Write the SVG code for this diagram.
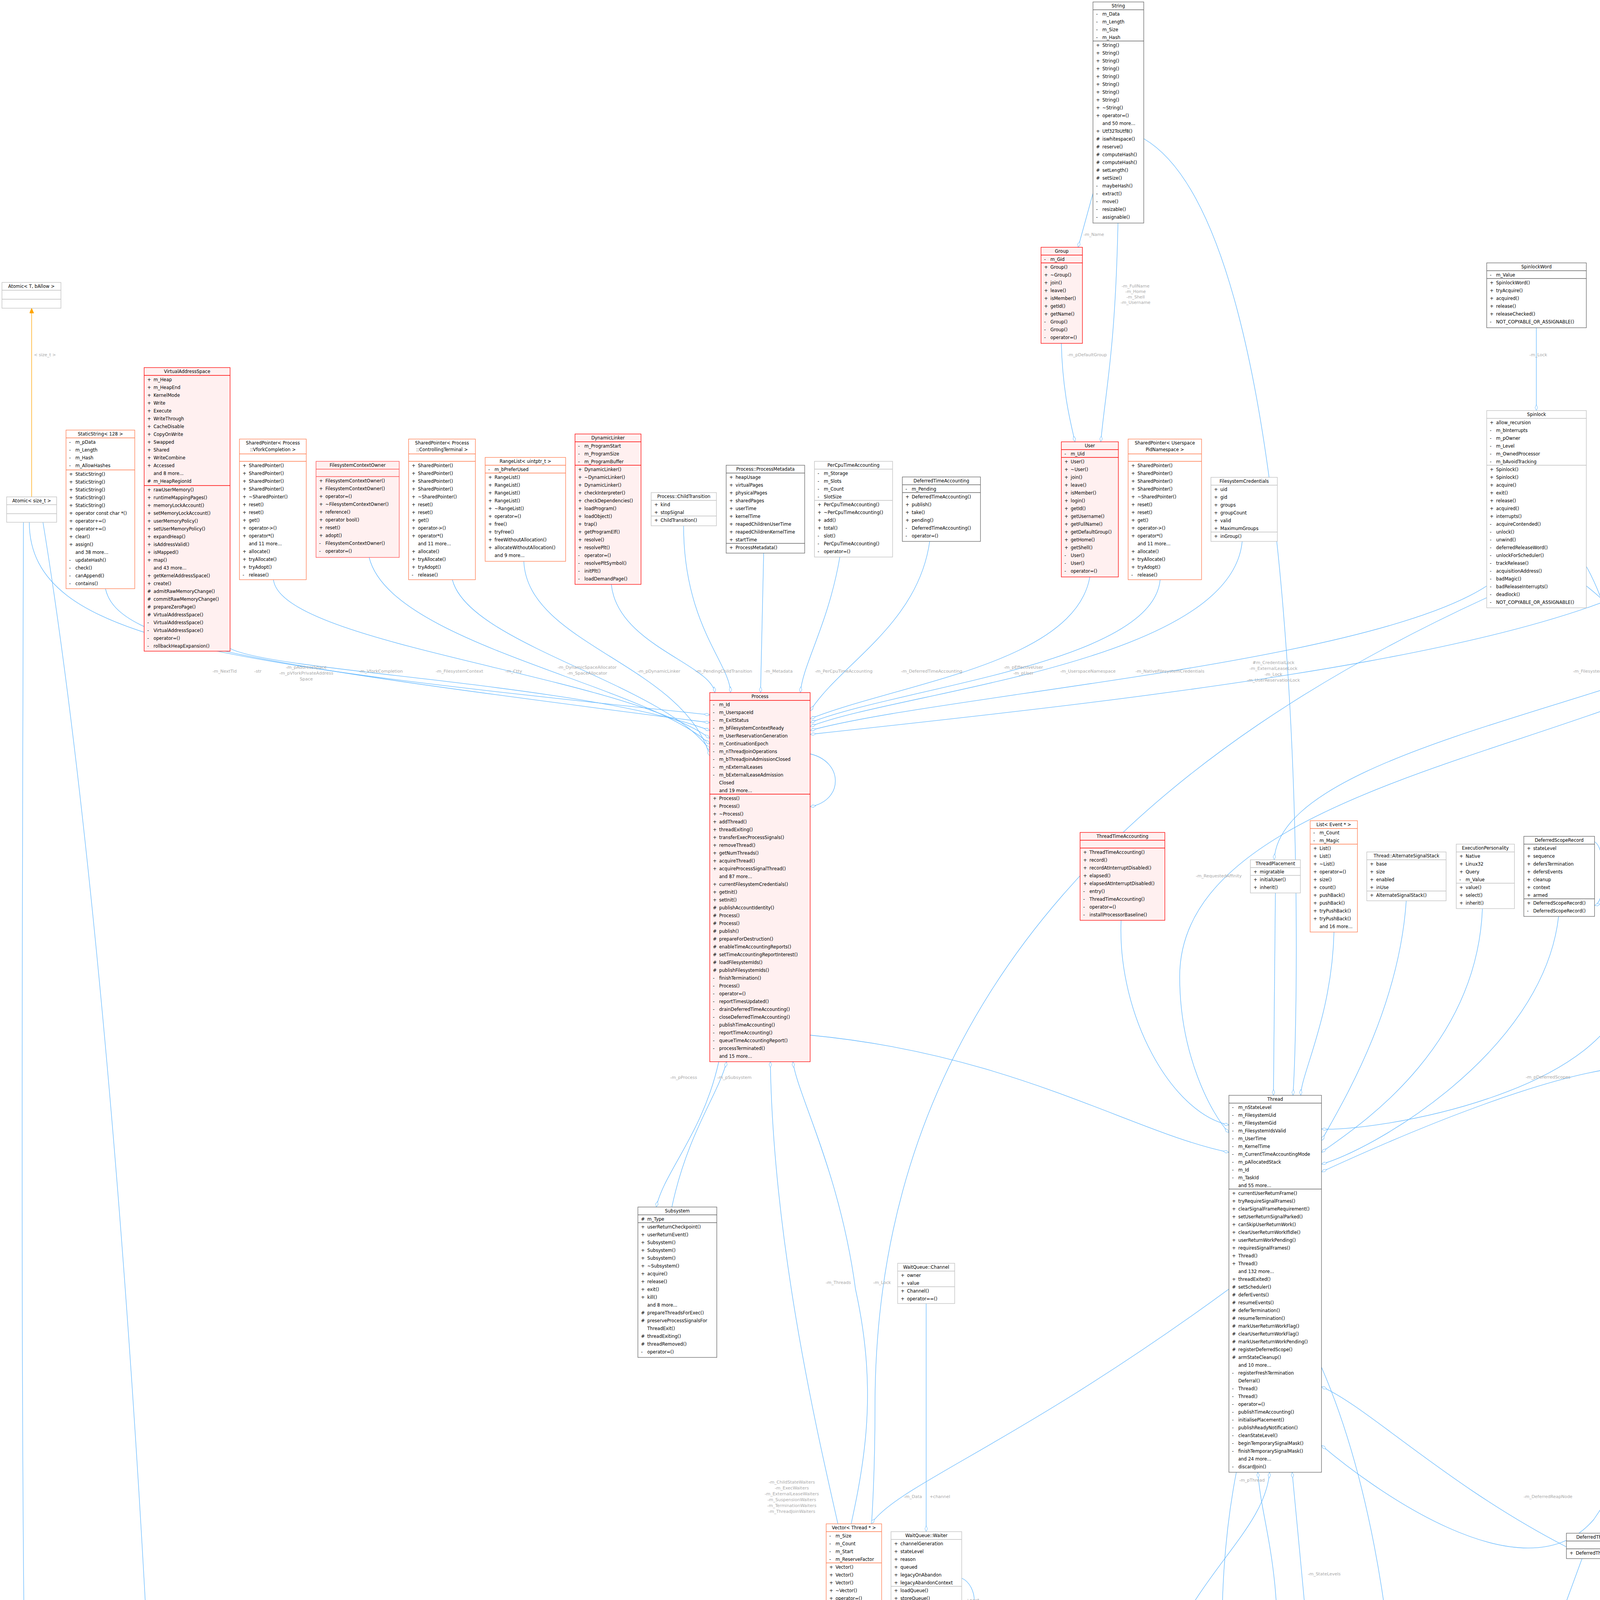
<svg xmlns="http://www.w3.org/2000/svg" width="4841" height="6575" viewBox="0 0 4841 6575">
<style>
text{font-family:"DejaVu Sans","Liberation Sans",sans-serif;font-size:11.5px;fill:#000}
.h{text-anchor:middle}
.n rect,.n line{stroke-width:1.3}
.red rect{fill:#FFF0F0;stroke:#FF0000}.red line{stroke:#FF0000}
.pk rect{fill:#FFF0F0;stroke:#FF5050}.pk line{stroke:#FF5050}
.org rect{fill:#FFFFFF;stroke:#FF7A4D}.org line{stroke:#FF7A4D}
.gd rect{fill:#FFFFFF;stroke:#666666}.gd line{stroke:#666666}
.gl rect{fill:#FFFFFF;stroke:#BFBFBF}.gl line{stroke:#BFBFBF}
.dk rect{fill:#999999;stroke:#666666}.dk line{stroke:#666666}
.e path{fill:none;stroke:#63B8FF;stroke-width:1.3}
.l{fill:#A8A8A8;font-size:11px;text-anchor:middle}
</style>
<defs>
<marker id="d" viewBox="0 0 16 8" refX="16" refY="4" markerWidth="15" markerHeight="8" markerUnits="userSpaceOnUse" orient="auto"><path d="M0,4 L8,0.5 L16,4 L8,7.5 Z" fill="#fff" stroke="#63B8FF" stroke-width="1"/></marker>
<marker id="io" viewBox="0 0 12 10" refX="12" refY="5" markerWidth="13" markerHeight="11" markerUnits="userSpaceOnUse" orient="auto"><path d="M0,0 L12,5 L0,10 Z" fill="#FFA500" stroke="#FFA500"/></marker>
<marker id="ib" viewBox="0 0 12 10" refX="12" refY="5" markerWidth="13" markerHeight="11" markerUnits="userSpaceOnUse" orient="auto"><path d="M0,0 L12,5 L0,10 Z" fill="#fff" stroke="#63B8FF"/></marker>
</defs>

<g id="edges" class="e">
<path d="M81,1272 L81,789" style="stroke:#FFA500" marker-end="url(#io)"/>
<path d="M75,1337 C75,1650 600,1700 1817,1830" marker-end="url(#d)"/>
<path d="M270,1507 C300,1650 650,1700 1817,1850" marker-end="url(#d)"/>
<path d="M589,1660 C700,1720 1500,1750 1817,1870" marker-end="url(#d)"/>
<path d="M700,1484 C720,1650 1600,1730 1817,1890" marker-end="url(#d)"/>
<path d="M945,1427 C1000,1650 1650,1750 1817,1905" marker-end="url(#d)"/>
<path d="M1158,1484 C1200,1650 1700,1750 1817,1920" marker-end="url(#d)"/>
<path d="M1341,1437 C1350,1650 1750,1700 1817,1935" marker-end="url(#d)"/>
<path d="M1565,1496 C1580,1650 1820,1700 1830,1773" marker-end="url(#d)"/>
<path d="M1750,1346 C1750,1600 1870,1700 1870,1773" marker-end="url(#d)"/>
<path d="M1955,1416 L1947,1773" marker-end="url(#d)"/>
<path d="M2150,1426 C2120,1600 2055,1700 2049,1773" marker-end="url(#d)"/>
<path d="M2380,1386 C2350,1600 2150,1700 2074,1820" marker-end="url(#d)"/>
<path d="M2790,1477 C2750,1700 2300,1750 2074,1840" marker-end="url(#d)"/>
<path d="M2970,1484 C2950,1700 2300,1760 2074,1850" marker-end="url(#d)"/>
<path d="M3180,1386 C3150,1700 2300,1770 2074,1860" marker-end="url(#d)"/>
<path d="M3806,1500 C3500,1700 2400,1780 2074,1870" marker-end="url(#d)"/>
<path d="M4380,1366 C4200,1650 3000,1780 2074,1880" marker-end="url(#d)"/>
<path d="M4680,1427 C4690,1750 3280,1850 3262,2201" marker-end="url(#d)"/>
<path d="M4650,1427 C4600,1900 3020,1900 3020,2500 C3020,2700 3100,2850 3146,2900" marker-end="url(#d)"/>
<path d="M2798,495 L2760,633" marker-end="url(#d)"/>
<path d="M2862,571 C2855,900 2830,1000 2818,1131" marker-end="url(#d)"/>
<path d="M2717,879 C2720,1000 2740,1080 2752,1131" marker-end="url(#d)"/>
<path d="M3933,839 L3933,1051" marker-end="url(#d)"/>
<path d="M2928,355 C3350,600 3330,2500 3310,2804" marker-end="url(#d)"/>
<path d="M2074,2650 C2600,2700 2900,2900 3146,2950" marker-end="url(#d)"/>
<path d="M2074,1930 C2160,1950 2160,2050 2074,2065" marker-end="url(#d)"/>
<path d="M1720,3090 C1760,2900 1840,2800 1860,2718" marker-end="url(#d)"/>
<path d="M1840,2718 C1800,2900 1700,3000 1680,3090" marker-end="url(#d)"/>
<path d="M2145,3901 C2100,3700 1980,3200 1972,2718" marker-end="url(#d)"/>
<path d="M2090,4565 C2080,4000 2300,3800 2190,3300 C2150,3000 2040,2800 2030,2718" marker-end="url(#d)"/>
<path d="M3806,1530 C3000,1900 2240,2500 2240,3600 C2240,4200 2150,4400 2110,4565" marker-end="url(#d)"/>
<path d="M3146,3300 C2600,3700 2300,3800 2230,3901" marker-end="url(#d)"/>
<path d="M2371,3337 L2371,3921" marker-end="url(#d)"/>
<path d="M2462,4040 C2505,4060 2505,4140 2462,4150" marker-end="url(#d)"/>
<path d="M2300,4226 C2200,4300 2140,4400 2135,4565" marker-end="url(#d)"/>
<path d="M2231,4640 C2300,4500 2340,4400 2340,4226" marker-end="url(#d)"/>
<path d="M2440,4226 C2520,4400 2900,4450 3000,4200 C3100,4000 3240,3900 3250,3769" marker-end="url(#d)"/>
<path d="M3165,3769 C3120,4000 3130,4200 3126,4271" marker-end="url(#d)"/>
<path d="M3380,4560 C3350,4200 3320,3900 3308,3769" marker-end="url(#d)"/>
<path d="M3110,5735 C3060,5300 3250,4700 3270,4300 C3280,4000 3230,3900 3220,3769" marker-end="url(#d)"/>
<path d="M3383,3500 C3600,4000 3700,5000 3338,5900" marker-end="url(#d)"/>
<path d="M3063,4536 C3000,4900 2980,5500 3073,5800" marker-end="url(#d)"/>
<path d="M2131,4950 L2131,5442" marker-end="url(#d)"/>
<path d="M3073,5780 C2900,5500 2780,5200 2700,4900 C2600,4500 2450,4300 2425,4226" marker-end="url(#d)"/>
<path d="M2172,5442 C2200,5410 2245,5420 2245,5470 C2245,5520 2200,5520 2175,5507" marker-end="url(#d)"/>
<path d="M2140,5507 C2180,5700 2300,5900 3073,6000" marker-end="url(#d)"/>
<path d="M2200,4950 C2400,5500 2600,5700 3073,6050" marker-end="url(#d)"/>
<path d="M3519,5150 C3300,5250 3050,5300 3040,5450 C3030,5600 3100,5700 3090,5735" marker-end="url(#d)"/>
<path d="M4050,3990 C3900,4400 3750,4800 3722,4990" marker-end="url(#d)"/>
<path d="M4180,3925 C4250,3900 4260,3990 4210,3985" marker-end="url(#d)"/>
<path d="M4110,3990 C4100,4800 4100,5500 3338,6000" marker-end="url(#d)"/>
<path d="M4010,3960 C3700,3800 3500,3600 3383,3550" marker-end="url(#d)"/>
<path d="M3535,5547 C3480,5750 3420,5900 3338,6100" marker-end="url(#d)"/>
<path d="M3700,5617 C3600,5850 3500,6000 3338,6110" marker-end="url(#d)"/>
<path d="M3900,5625 C3850,5800 3700,6000 3338,6120" marker-end="url(#d)"/>
<path d="M3290,5735 L3345,5517" marker-end="url(#ib)"/>
<path d="M213,4725 C260,4688 311,4690 311,4757 C311,4822 250,4830 215,4790" marker-end="url(#d)"/>
<path d="M108,5292 C90,5100 100,4950 172,4790" marker-end="url(#d)"/>
<path d="M192,4790 L166,5292" marker-end="url(#d)"/>
<path d="M242,5437 C275,5440 275,5510 242,5510" marker-end="url(#d)"/>
<path d="M120,5656 C110,5800 150,5950 193,6062" marker-end="url(#d)"/>
<path d="M235,6062 C230,5900 220,5750 205,5656" marker-end="url(#d)"/>
<path d="M60,1337 C55,3000 50,4600 90,5292" marker-end="url(#d)"/>
<path d="M110,1337 C300,2500 420,4600 418,5500 C418,5800 340,5950 280,6062" marker-end="url(#d)"/>
<path d="M2032,4720 C1500,4800 600,5000 242,5420" marker-end="url(#d)"/>
<path d="M2032,4880 C1500,5000 1100,5300 1021,5420" marker-end="url(#d)"/>
<path d="M2870,2356 C2860,2600 3000,2850 3146,2880" marker-end="url(#d)"/>
<path d="M3265,2286 L3260,2804" marker-end="url(#d)"/>
<path d="M3415,2386 C3410,2600 3330,2750 3330,2804" marker-end="url(#d)"/>
<path d="M3600,2306 C3580,2600 3420,2850 3383,2920" marker-end="url(#d)"/>
<path d="M3795,2326 C3780,2700 3450,2900 3383,2950" marker-end="url(#d)"/>
<path d="M3990,2346 C3950,2700 3500,2950 3383,2980" marker-end="url(#d)"/>
<path d="M4082,2155 C4112,2170 4112,2310 4082,2318" marker-end="url(#d)"/>
<path d="M4460,2353 C4460,2600 4300,2720 4200,2730 C4000,2730 3600,2900 3383,3000" marker-end="url(#d)"/>
<path d="M4435,2353 C4300,2900 4350,3500 4080,3890 C3900,4100 3500,3800 3383,3700" marker-end="url(#d)"/>
<path d="M4061,1450 C4200,1700 4200,2200 4170,2500 C4150,2800 3500,2900 3383,2890" marker-end="url(#d)"/>
<path d="M4061,1500 C4700,2000 4720,4000 4600,5000 C4500,5600 3700,6000 3338,6130" marker-end="url(#d)"/>
<path d="M4700,1427 C4800,2000 4780,4800 4600,5300 C4400,5800 3700,6100 3338,6140" marker-end="url(#d)"/>
</g>

<g id="edge-labels">
<text class="l" x="115" y="912">&lt; size_t &gt;</text>
<text class="l" x="575" y="1722">-m_NextTid</text>
<text class="l" x="660" y="1722">-str</text>
<text class="l" x="784" y="1712">-m_pAddressSpace</text>
<text class="l" x="784" y="1727">-m_pVforkPrivateAddress</text>
<text class="l" x="784" y="1742">Space</text>
<text class="l" x="975" y="1722">-m_VforkCompletion</text>
<text class="l" x="1176" y="1722">-m_FilesystemContext</text>
<text class="l" x="1315" y="1722">-m_Ctty</text>
<text class="l" x="1503" y="1712">-m_DynamicSpaceAllocator</text>
<text class="l" x="1503" y="1727">-m_SpaceAllocator</text>
<text class="l" x="1687" y="1722">-m_pDynamicLinker</text>
<text class="l" x="1853" y="1722">-m_PendingChildTransition</text>
<text class="l" x="1993" y="1722">-m_Metadata</text>
<text class="l" x="2160" y="1722">-m_PerCpuTimeAccounting</text>
<text class="l" x="2385" y="1722">-m_DeferredTimeAccounting</text>
<text class="l" x="2620" y="1712">-m_pEffectiveUser</text>
<text class="l" x="2620" y="1727">-m_pUser</text>
<text class="l" x="2785" y="1722">-m_UserspaceNamespace</text>
<text class="l" x="2995" y="1722">-m_NativeFilesystemCredentials</text>
<text class="l" x="3260" y="1700">#m_CredentialLock</text>
<text class="l" x="3260" y="1715">-m_ExternalLeaseLock</text>
<text class="l" x="3260" y="1730">-m_Lock</text>
<text class="l" x="3260" y="1745">-m_UserReservationLock</text>
<text class="l" x="4100" y="1722">-m_FilesystemContextLock</text>
<text class="l" x="4657" y="1722">+allowed</text>
<text class="l" x="3938" y="912">-m_Lock</text>
<text class="l" x="2800" y="604">-m_Name</text>
<text class="l" x="2907" y="736">-m_FullName</text>
<text class="l" x="2907" y="750">-m_Home</text>
<text class="l" x="2907" y="764">-m_Shell</text>
<text class="l" x="2907" y="778">-m_Username</text>
<text class="l" x="2783" y="912">-m_pDefaultGroup</text>
<text class="l" x="3120" y="2246">-m_RequestedAffinity</text>
<text class="l" x="4130" y="2246">+next</text>
<text class="l" x="4268" y="2237">-m_ExternalLeaseLock</text>
<text class="l" x="4268" y="2251">-m_Lock</text>
<text class="l" x="3963" y="2761">-m_pDeferredScopes</text>
<text class="l" x="4290" y="2761">-m_pInputUserStack</text>
<text class="l" x="3963" y="3835">-m_DeferredReapNode</text>
<text class="l" x="4180" y="3822">+m_pAuxillaryStack</text>
<text class="l" x="4180" y="3837">+m_pKernelStack</text>
<text class="l" x="4180" y="3852">+m_pUserStack</text>
<text class="l" x="4280" y="3962">+next</text>
<text class="l" x="1750" y="2762">-m_pProcess</text>
<text class="l" x="1880" y="2762">-m_pSubsystem</text>
<text class="l" x="2146" y="3287">-m_Threads</text>
<text class="l" x="2258" y="3287">-m_Lock</text>
<text class="l" x="2027" y="3798">-m_ChildStateWaiters</text>
<text class="l" x="2027" y="3813">-m_ExecWaiters</text>
<text class="l" x="2027" y="3828">-m_ExternalLeaseWaiters</text>
<text class="l" x="2027" y="3843">-m_SuspensionWaiters</text>
<text class="l" x="2027" y="3858">-m_TerminationWaiters</text>
<text class="l" x="2027" y="3873">-m_ThreadJoinWaiters</text>
<text class="l" x="2337" y="3835">-m_Data</text>
<text class="l" x="2406" y="3835">+channel</text>
<text class="l" x="2490" y="4100">+next</text>
<text class="l" x="2237" y="4398">-m_pFirstWaiter</text>
<text class="l" x="2237" y="4413">-m_pLastWaiter</text>
<text class="l" x="2385" y="4406">+queue</text>
<text class="l" x="2995" y="4406">+m_Waiter</text>
<text class="l" x="3205" y="3793">-m_pThread</text>
<text class="l" x="3390" y="4033">-m_StateLevels</text>
<text class="l" x="3206" y="4759">-m_pScheduler</text>
<text class="l" x="2176" y="5125">-m_pWaiters</text>
<text class="l" x="2779" y="5125">+scheduler</text>
<text class="l" x="3036" y="5118">-m_NewThreadWorker</text>
<text class="l" x="3036" y="5133">-m_TimeAccountingWorker</text>
<text class="l" x="2283" y="5478">-m_pNext</text>
<text class="l" x="2632" y="5478">-m_TimeAccountingWorkerWaiters</text>
<text class="l" x="2360" y="5691">-m_TimeAccountingWorkerWake</text>
<text class="l" x="2360" y="5706">-m_pWorkerWakeHead</text>
<text class="l" x="3155" y="5478">-m_DeferredThreadReaps</text>
<text class="l" x="4210" y="5125">-m_DeferredThreadReapStub</text>
<text class="l" x="3542" y="5698">-m_pSchedulingAlgorithm</text>
<text class="l" x="3754" y="5690">-m_DelayedNewThreadData</text>
<text class="l" x="3754" y="5705">-m_NewThreadData</text>
<text class="l" x="3953" y="5698">-m_TimeAccountingState</text>
<text class="l" x="338" y="4760">+next</text>
<text class="l" x="137" y="5125">+owner</text>
<text class="l" x="219" y="5125">-m_Intake</text>
<text class="l" x="300" y="5480">-m_Next</text>
<text class="l" x="162" y="5700">-m_Request</text>
<text class="l" x="295" y="5700">-m_pPreallocatedOwner</text>
</g>

<g id="n_atomic_t" class="n gl"><rect x="5" y="723" width="151" height="66"/><line x1="5" y1="743" x2="156" y2="743"/><line x1="5" y1="766" x2="156" y2="766"/><text class="h" x="80.5" y="737">Atomic&lt; T, bAllow &gt;</text></g>

<g id="n_atomic_size" class="n gl"><rect x="17" y="1272" width="128" height="65"/><line x1="17" y1="1292" x2="145" y2="1292"/><line x1="17" y1="1315" x2="145" y2="1315"/><text class="h" x="81" y="1286">Atomic&lt; size_t &gt;</text></g>

<g id="n_staticstring" class="n org"><rect x="169" y="1101" width="176" height="406"/><line x1="169" y1="1121" x2="345" y2="1121"/><line x1="169" y1="1203" x2="345" y2="1203"/>
<text class="h" x="257" y="1115">StaticString&lt; 128 &gt;</text>
<text y="1136"><tspan x="177">-</tspan><tspan x="177" dy="20">-</tspan><tspan x="177" dy="20">-</tspan><tspan x="177" dy="20">-</tspan></text>
<text y="1136"><tspan x="193">m_pData</tspan><tspan x="193" dy="20">m_Length</tspan><tspan x="193" dy="20">m_Hash</tspan><tspan x="193" dy="20">m_AllowHashes</tspan></text>
<text y="1218"><tspan x="177">+</tspan><tspan x="177" dy="20">+</tspan><tspan x="177" dy="20">+</tspan><tspan x="177" dy="20">+</tspan><tspan x="177" dy="20">+</tspan><tspan x="177" dy="20">+</tspan><tspan x="177" dy="20">+</tspan><tspan x="177" dy="20">+</tspan><tspan x="177" dy="20">+</tspan><tspan x="177" dy="20">+</tspan><tspan x="177" dy="40">-</tspan><tspan x="177" dy="20">-</tspan><tspan x="177" dy="20">-</tspan><tspan x="177" dy="20">-</tspan></text>
<text y="1218"><tspan x="193">StaticString()</tspan><tspan x="193" dy="20">StaticString()</tspan><tspan x="193" dy="20">StaticString()</tspan><tspan x="193" dy="20">StaticString()</tspan><tspan x="193" dy="20">StaticString()</tspan><tspan x="193" dy="20">operator const char *()</tspan><tspan x="193" dy="20">operator+=()</tspan><tspan x="193" dy="20">operator+=()</tspan><tspan x="193" dy="20">clear()</tspan><tspan x="193" dy="20">assign()</tspan><tspan x="193" dy="20">and 38 more...</tspan><tspan x="193" dy="20">updateHash()</tspan><tspan x="193" dy="20">check()</tspan><tspan x="193" dy="20">canAppend()</tspan><tspan x="193" dy="20">contains()</tspan></text></g>

<g id="n_vas" class="n red"><rect x="369" y="941" width="220" height="726"/><line x1="369" y1="961" x2="589" y2="961"/><line x1="369" y1="1243" x2="589" y2="1243"/>
<text class="h" x="479" y="955">VirtualAddressSpace</text>
<text y="976"><tspan x="377">+</tspan><tspan x="377" dy="20">+</tspan><tspan x="377" dy="20">+</tspan><tspan x="377" dy="20">+</tspan><tspan x="377" dy="20">+</tspan><tspan x="377" dy="20">+</tspan><tspan x="377" dy="20">+</tspan><tspan x="377" dy="20">+</tspan><tspan x="377" dy="20">+</tspan><tspan x="377" dy="20">+</tspan><tspan x="377" dy="20">+</tspan><tspan x="377" dy="20">+</tspan><tspan x="377" dy="40">#</tspan></text>
<text y="976"><tspan x="393">m_Heap</tspan><tspan x="393" dy="20">m_HeapEnd</tspan><tspan x="393" dy="20">KernelMode</tspan><tspan x="393" dy="20">Write</tspan><tspan x="393" dy="20">Execute</tspan><tspan x="393" dy="20">WriteThrough</tspan><tspan x="393" dy="20">CacheDisable</tspan><tspan x="393" dy="20">CopyOnWrite</tspan><tspan x="393" dy="20">Swapped</tspan><tspan x="393" dy="20">Shared</tspan><tspan x="393" dy="20">WriteCombine</tspan><tspan x="393" dy="20">Accessed</tspan><tspan x="393" dy="20">and 8 more...</tspan><tspan x="393" dy="20">m_HeapRegionId</tspan></text>
<text y="1258"><tspan x="377">+</tspan><tspan x="377" dy="20">+</tspan><tspan x="377" dy="20">+</tspan><tspan x="377" dy="20">+</tspan><tspan x="377" dy="20">+</tspan><tspan x="377" dy="20">+</tspan><tspan x="377" dy="20">+</tspan><tspan x="377" dy="20">+</tspan><tspan x="377" dy="20">+</tspan><tspan x="377" dy="20">+</tspan><tspan x="377" dy="40">+</tspan><tspan x="377" dy="20">+</tspan><tspan x="377" dy="20">#</tspan><tspan x="377" dy="20">#</tspan><tspan x="377" dy="20">#</tspan><tspan x="377" dy="20">#</tspan><tspan x="377" dy="20">-</tspan><tspan x="377" dy="20">-</tspan><tspan x="377" dy="20">-</tspan><tspan x="377" dy="20">-</tspan></text>
<text y="1258"><tspan x="393">rawUserMemory()</tspan><tspan x="393" dy="20">runtimeMappingPages()</tspan><tspan x="393" dy="20">memoryLockAccount()</tspan><tspan x="393" dy="20">setMemoryLockAccount()</tspan><tspan x="393" dy="20">userMemoryPolicy()</tspan><tspan x="393" dy="20">setUserMemoryPolicy()</tspan><tspan x="393" dy="20">expandHeap()</tspan><tspan x="393" dy="20">isAddressValid()</tspan><tspan x="393" dy="20">isMapped()</tspan><tspan x="393" dy="20">map()</tspan><tspan x="393" dy="20">and 43 more...</tspan><tspan x="393" dy="20">getKernelAddressSpace()</tspan><tspan x="393" dy="20">create()</tspan><tspan x="393" dy="20">admitRawMemoryChange()</tspan><tspan x="393" dy="20">commitRawMemoryChange()</tspan><tspan x="393" dy="20">prepareZeroPage()</tspan><tspan x="393" dy="20">VirtualAddressSpace()</tspan><tspan x="393" dy="20">VirtualAddressSpace()</tspan><tspan x="393" dy="20">VirtualAddressSpace()</tspan><tspan x="393" dy="20">operator=()</tspan><tspan x="393" dy="20">rollbackHeapExpansion()</tspan></text></g>

<g id="n_sp_vfork" class="n org"><rect x="613" y="1124" width="171" height="360"/><line x1="613" y1="1162" x2="784" y2="1162"/><line x1="613" y1="1181" x2="784" y2="1181"/>
<text class="h" x="698.5" y="1138">SharedPointer&lt; Process</text><text class="h" x="698.5" y="1155">::VforkCompletion &gt;</text>
<text y="1196"><tspan x="621">+</tspan><tspan x="621" dy="20">+</tspan><tspan x="621" dy="20">+</tspan><tspan x="621" dy="20">+</tspan><tspan x="621" dy="20">+</tspan><tspan x="621" dy="20">+</tspan><tspan x="621" dy="20">+</tspan><tspan x="621" dy="20">+</tspan><tspan x="621" dy="20">+</tspan><tspan x="621" dy="20">+</tspan><tspan x="621" dy="40">+</tspan><tspan x="621" dy="20">+</tspan><tspan x="621" dy="20">+</tspan><tspan x="621" dy="20">-</tspan></text>
<text y="1196"><tspan x="637">SharedPointer()</tspan><tspan x="637" dy="20">SharedPointer()</tspan><tspan x="637" dy="20">SharedPointer()</tspan><tspan x="637" dy="20">SharedPointer()</tspan><tspan x="637" dy="20">~SharedPointer()</tspan><tspan x="637" dy="20">reset()</tspan><tspan x="637" dy="20">reset()</tspan><tspan x="637" dy="20">get()</tspan><tspan x="637" dy="20">operator-&gt;()</tspan><tspan x="637" dy="20">operator*()</tspan><tspan x="637" dy="20">and 11 more...</tspan><tspan x="637" dy="20">allocate()</tspan><tspan x="637" dy="20">tryAllocate()</tspan><tspan x="637" dy="20">tryAdopt()</tspan><tspan x="637" dy="20">release()</tspan></text></g>

<g id="n_fsctxowner" class="n pk"><rect x="809" y="1181" width="213" height="246"/><line x1="809" y1="1201" x2="1022" y2="1201"/><line x1="809" y1="1220" x2="1022" y2="1220"/>
<text class="h" x="915.5" y="1195">FilesystemContextOwner</text>
<text y="1235"><tspan x="817">+</tspan><tspan x="817" dy="20">+</tspan><tspan x="817" dy="20">+</tspan><tspan x="817" dy="20">+</tspan><tspan x="817" dy="20">+</tspan><tspan x="817" dy="20">+</tspan><tspan x="817" dy="20">+</tspan><tspan x="817" dy="20">+</tspan><tspan x="817" dy="20">-</tspan><tspan x="817" dy="20">-</tspan></text>
<text y="1235"><tspan x="833">FilesystemContextOwner()</tspan><tspan x="833" dy="20">FilesystemContextOwner()</tspan><tspan x="833" dy="20">operator=()</tspan><tspan x="833" dy="20">~FilesystemContextOwner()</tspan><tspan x="833" dy="20">reference()</tspan><tspan x="833" dy="20">operator bool()</tspan><tspan x="833" dy="20">reset()</tspan><tspan x="833" dy="20">adopt()</tspan><tspan x="833" dy="20">FilesystemContextOwner()</tspan><tspan x="833" dy="20">operator=()</tspan></text></g>

<g id="n_sp_ctty" class="n org"><rect x="1046" y="1124" width="171" height="360"/><line x1="1046" y1="1162" x2="1217" y2="1162"/><line x1="1046" y1="1181" x2="1217" y2="1181"/>
<text class="h" x="1131.5" y="1138">SharedPointer&lt; Process</text><text class="h" x="1131.5" y="1155">::ControllingTerminal &gt;</text>
<text y="1196"><tspan x="1054">+</tspan><tspan x="1054" dy="20">+</tspan><tspan x="1054" dy="20">+</tspan><tspan x="1054" dy="20">+</tspan><tspan x="1054" dy="20">+</tspan><tspan x="1054" dy="20">+</tspan><tspan x="1054" dy="20">+</tspan><tspan x="1054" dy="20">+</tspan><tspan x="1054" dy="20">+</tspan><tspan x="1054" dy="20">+</tspan><tspan x="1054" dy="40">+</tspan><tspan x="1054" dy="20">+</tspan><tspan x="1054" dy="20">+</tspan><tspan x="1054" dy="20">-</tspan></text>
<text y="1196"><tspan x="1070">SharedPointer()</tspan><tspan x="1070" dy="20">SharedPointer()</tspan><tspan x="1070" dy="20">SharedPointer()</tspan><tspan x="1070" dy="20">SharedPointer()</tspan><tspan x="1070" dy="20">~SharedPointer()</tspan><tspan x="1070" dy="20">reset()</tspan><tspan x="1070" dy="20">reset()</tspan><tspan x="1070" dy="20">get()</tspan><tspan x="1070" dy="20">operator-&gt;()</tspan><tspan x="1070" dy="20">operator*()</tspan><tspan x="1070" dy="20">and 11 more...</tspan><tspan x="1070" dy="20">allocate()</tspan><tspan x="1070" dy="20">tryAllocate()</tspan><tspan x="1070" dy="20">tryAdopt()</tspan><tspan x="1070" dy="20">release()</tspan></text></g>

<g id="n_rangelist" class="n org"><rect x="1242" y="1171" width="206" height="266"/><line x1="1242" y1="1191" x2="1448" y2="1191"/><line x1="1242" y1="1211" x2="1448" y2="1211"/>
<text class="h" x="1345" y="1185">RangeList&lt; uintptr_t &gt;</text>
<text x="1250" y="1206">-</text><text x="1266" y="1206">m_bPreferUsed</text>
<text y="1226"><tspan x="1250">+</tspan><tspan x="1250" dy="20">+</tspan><tspan x="1250" dy="20">+</tspan><tspan x="1250" dy="20">+</tspan><tspan x="1250" dy="20">+</tspan><tspan x="1250" dy="20">+</tspan><tspan x="1250" dy="20">+</tspan><tspan x="1250" dy="20">+</tspan><tspan x="1250" dy="20">+</tspan><tspan x="1250" dy="20">+</tspan></text>
<text y="1226"><tspan x="1266">RangeList()</tspan><tspan x="1266" dy="20">RangeList()</tspan><tspan x="1266" dy="20">RangeList()</tspan><tspan x="1266" dy="20">RangeList()</tspan><tspan x="1266" dy="20">~RangeList()</tspan><tspan x="1266" dy="20">operator=()</tspan><tspan x="1266" dy="20">free()</tspan><tspan x="1266" dy="20">tryFree()</tspan><tspan x="1266" dy="20">freeWithoutAllocation()</tspan><tspan x="1266" dy="20">allocateWithoutAllocation()</tspan><tspan x="1266" dy="20">and 9 more...</tspan></text></g>

<g id="n_dynlinker" class="n red"><rect x="1472" y="1111" width="169" height="385"/><line x1="1472" y1="1131" x2="1641" y2="1131"/><line x1="1472" y1="1191" x2="1641" y2="1191"/>
<text class="h" x="1556.5" y="1125">DynamicLinker</text>
<text y="1146"><tspan x="1480">-</tspan><tspan x="1480" dy="20">-</tspan><tspan x="1480" dy="20">-</tspan></text>
<text y="1146"><tspan x="1496">m_ProgramStart</tspan><tspan x="1496" dy="20">m_ProgramSize</tspan><tspan x="1496" dy="20">m_ProgramBuffer</tspan></text>
<text y="1206"><tspan x="1480">+</tspan><tspan x="1480" dy="20">+</tspan><tspan x="1480" dy="20">+</tspan><tspan x="1480" dy="20">+</tspan><tspan x="1480" dy="20">+</tspan><tspan x="1480" dy="20">+</tspan><tspan x="1480" dy="20">+</tspan><tspan x="1480" dy="20">+</tspan><tspan x="1480" dy="20">+</tspan><tspan x="1480" dy="20">+</tspan><tspan x="1480" dy="20">+</tspan><tspan x="1480" dy="20">-</tspan><tspan x="1480" dy="20">-</tspan><tspan x="1480" dy="20">-</tspan><tspan x="1480" dy="20">-</tspan></text>
<text y="1206"><tspan x="1496">DynamicLinker()</tspan><tspan x="1496" dy="20">~DynamicLinker()</tspan><tspan x="1496" dy="20">DynamicLinker()</tspan><tspan x="1496" dy="20">checkInterpreter()</tspan><tspan x="1496" dy="20">checkDependencies()</tspan><tspan x="1496" dy="20">loadProgram()</tspan><tspan x="1496" dy="20">loadObject()</tspan><tspan x="1496" dy="20">trap()</tspan><tspan x="1496" dy="20">getProgramElf()</tspan><tspan x="1496" dy="20">resolve()</tspan><tspan x="1496" dy="20">resolvePlt()</tspan><tspan x="1496" dy="20">operator=()</tspan><tspan x="1496" dy="20">resolvePltSymbol()</tspan><tspan x="1496" dy="20">initPlt()</tspan><tspan x="1496" dy="20">loadDemandPage()</tspan></text></g>

<g id="n_childtransition" class="n gl"><rect x="1667" y="1261" width="167" height="85"/><line x1="1667" y1="1281" x2="1834" y2="1281"/><line x1="1667" y1="1321" x2="1834" y2="1321"/>
<text class="h" x="1750.5" y="1275">Process::ChildTransition</text>
<text y="1296"><tspan x="1675">+</tspan><tspan x="1675" dy="20">+</tspan><tspan x="1675" dy="20">+</tspan></text>
<text y="1296"><tspan x="1691">kind</tspan><tspan x="1691" dy="20">stopSignal</tspan><tspan x="1691" dy="20">ChildTransition()</tspan></text></g>

<g id="n_metadata" class="n gd"><rect x="1859" y="1191" width="201" height="225"/><line x1="1859" y1="1211" x2="2060" y2="1211"/><line x1="1859" y1="1391" x2="2060" y2="1391"/>
<text class="h" x="1959.5" y="1205">Process::ProcessMetadata</text>
<text y="1226"><tspan x="1867">+</tspan><tspan x="1867" dy="20">+</tspan><tspan x="1867" dy="20">+</tspan><tspan x="1867" dy="20">+</tspan><tspan x="1867" dy="20">+</tspan><tspan x="1867" dy="20">+</tspan><tspan x="1867" dy="20">+</tspan><tspan x="1867" dy="20">+</tspan><tspan x="1867" dy="20">+</tspan><tspan x="1867" dy="20">+</tspan></text>
<text y="1226"><tspan x="1883">heapUsage</tspan><tspan x="1883" dy="20">virtualPages</tspan><tspan x="1883" dy="20">physicalPages</tspan><tspan x="1883" dy="20">sharedPages</tspan><tspan x="1883" dy="20">userTime</tspan><tspan x="1883" dy="20">kernelTime</tspan><tspan x="1883" dy="20">reapedChildrenUserTime</tspan><tspan x="1883" dy="20">reapedChildrenKernelTime</tspan><tspan x="1883" dy="20">startTime</tspan><tspan x="1883" dy="20">ProcessMetadata()</tspan></text></g>

<g id="n_percpu" class="n gl"><rect x="2085" y="1181" width="200" height="245"/><line x1="2085" y1="1201" x2="2285" y2="1201"/><line x1="2085" y1="1281" x2="2285" y2="1281"/>
<text class="h" x="2185" y="1195">PerCpuTimeAccounting</text>
<text y="1216"><tspan x="2093">-</tspan><tspan x="2093" dy="20">-</tspan><tspan x="2093" dy="20">-</tspan><tspan x="2093" dy="20">-</tspan><tspan x="2093" dy="20">+</tspan><tspan x="2093" dy="20">+</tspan><tspan x="2093" dy="20">+</tspan><tspan x="2093" dy="20">+</tspan><tspan x="2093" dy="20">-</tspan><tspan x="2093" dy="20">-</tspan><tspan x="2093" dy="20">-</tspan></text>
<text y="1216"><tspan x="2109">m_Storage</tspan><tspan x="2109" dy="20">m_Slots</tspan><tspan x="2109" dy="20">m_Count</tspan><tspan x="2109" dy="20">SlotSize</tspan><tspan x="2109" dy="20">PerCpuTimeAccounting()</tspan><tspan x="2109" dy="20">~PerCpuTimeAccounting()</tspan><tspan x="2109" dy="20">add()</tspan><tspan x="2109" dy="20">total()</tspan><tspan x="2109" dy="20">slot()</tspan><tspan x="2109" dy="20">PerCpuTimeAccounting()</tspan><tspan x="2109" dy="20">operator=()</tspan></text></g>

<g id="n_deferredtime" class="n gd"><rect x="2310" y="1221" width="200" height="165"/><line x1="2310" y1="1241" x2="2510" y2="1241"/><line x1="2310" y1="1261" x2="2510" y2="1261"/>
<text class="h" x="2410" y="1235">DeferredTimeAccounting</text>
<text y="1256"><tspan x="2318">-</tspan><tspan x="2318" dy="20">+</tspan><tspan x="2318" dy="20">+</tspan><tspan x="2318" dy="20">+</tspan><tspan x="2318" dy="20">+</tspan><tspan x="2318" dy="20">-</tspan><tspan x="2318" dy="20">-</tspan></text>
<text y="1256"><tspan x="2334">m_Pending</tspan><tspan x="2334" dy="20">DeferredTimeAccounting()</tspan><tspan x="2334" dy="20">publish()</tspan><tspan x="2334" dy="20">take()</tspan><tspan x="2334" dy="20">pending()</tspan><tspan x="2334" dy="20">DeferredTimeAccounting()</tspan><tspan x="2334" dy="20">operator=()</tspan></text></g>

<g id="n_string" class="n gd"><rect x="2798" y="5" width="130" height="566"/><line x1="2798" y1="25" x2="2928" y2="25"/><line x1="2798" y1="105" x2="2928" y2="105"/>
<text class="h" x="2863" y="19">String</text>
<text y="40"><tspan x="2806">-</tspan><tspan x="2806" dy="20">-</tspan><tspan x="2806" dy="20">-</tspan><tspan x="2806" dy="20">-</tspan><tspan x="2806" dy="20">+</tspan><tspan x="2806" dy="20">+</tspan><tspan x="2806" dy="20">+</tspan><tspan x="2806" dy="20">+</tspan><tspan x="2806" dy="20">+</tspan><tspan x="2806" dy="20">+</tspan><tspan x="2806" dy="20">+</tspan><tspan x="2806" dy="20">+</tspan><tspan x="2806" dy="20">+</tspan><tspan x="2806" dy="20">+</tspan><tspan x="2806" dy="40">+</tspan><tspan x="2806" dy="20">#</tspan><tspan x="2806" dy="20">#</tspan><tspan x="2806" dy="20">#</tspan><tspan x="2806" dy="20">#</tspan><tspan x="2806" dy="20">#</tspan><tspan x="2806" dy="20">#</tspan><tspan x="2806" dy="20">-</tspan><tspan x="2806" dy="20">-</tspan><tspan x="2806" dy="20">-</tspan><tspan x="2806" dy="20">-</tspan><tspan x="2806" dy="20">-</tspan></text>
<text y="40"><tspan x="2822">m_Data</tspan><tspan x="2822" dy="20">m_Length</tspan><tspan x="2822" dy="20">m_Size</tspan><tspan x="2822" dy="20">m_Hash</tspan><tspan x="2822" dy="20">String()</tspan><tspan x="2822" dy="20">String()</tspan><tspan x="2822" dy="20">String()</tspan><tspan x="2822" dy="20">String()</tspan><tspan x="2822" dy="20">String()</tspan><tspan x="2822" dy="20">String()</tspan><tspan x="2822" dy="20">String()</tspan><tspan x="2822" dy="20">String()</tspan><tspan x="2822" dy="20">~String()</tspan><tspan x="2822" dy="20">operator=()</tspan><tspan x="2822" dy="20">and 50 more...</tspan><tspan x="2822" dy="20">Utf32ToUtf8()</tspan><tspan x="2822" dy="20">iswhitespace()</tspan><tspan x="2822" dy="20">reserve()</tspan><tspan x="2822" dy="20">computeHash()</tspan><tspan x="2822" dy="20">computeHash()</tspan><tspan x="2822" dy="20">setLength()</tspan><tspan x="2822" dy="20">setSize()</tspan><tspan x="2822" dy="20">maybeHash()</tspan><tspan x="2822" dy="20">extract()</tspan><tspan x="2822" dy="20">move()</tspan><tspan x="2822" dy="20">resizable()</tspan><tspan x="2822" dy="20">assignable()</tspan></text></g>

<g id="n_group" class="n red"><rect x="2665" y="633" width="106" height="246"/><line x1="2665" y1="653" x2="2771" y2="653"/><line x1="2665" y1="673" x2="2771" y2="673"/>
<text class="h" x="2718" y="647">Group</text>
<text y="668"><tspan x="2673">-</tspan><tspan x="2673" dy="20">+</tspan><tspan x="2673" dy="20">+</tspan><tspan x="2673" dy="20">+</tspan><tspan x="2673" dy="20">+</tspan><tspan x="2673" dy="20">+</tspan><tspan x="2673" dy="20">+</tspan><tspan x="2673" dy="20">+</tspan><tspan x="2673" dy="20">-</tspan><tspan x="2673" dy="20">-</tspan><tspan x="2673" dy="20">-</tspan></text>
<text y="668"><tspan x="2689">m_Gid</tspan><tspan x="2689" dy="20">Group()</tspan><tspan x="2689" dy="20">~Group()</tspan><tspan x="2689" dy="20">join()</tspan><tspan x="2689" dy="20">leave()</tspan><tspan x="2689" dy="20">isMember()</tspan><tspan x="2689" dy="20">getId()</tspan><tspan x="2689" dy="20">getName()</tspan><tspan x="2689" dy="20">Group()</tspan><tspan x="2689" dy="20">Group()</tspan><tspan x="2689" dy="20">operator=()</tspan></text></g>

<g id="n_user" class="n red"><rect x="2717" y="1131" width="146" height="346"/><line x1="2717" y1="1151" x2="2863" y2="1151"/><line x1="2717" y1="1171" x2="2863" y2="1171"/>
<text class="h" x="2790" y="1145">User</text>
<text y="1166"><tspan x="2725">-</tspan><tspan x="2725" dy="20">+</tspan><tspan x="2725" dy="20">+</tspan><tspan x="2725" dy="20">+</tspan><tspan x="2725" dy="20">+</tspan><tspan x="2725" dy="20">+</tspan><tspan x="2725" dy="20">+</tspan><tspan x="2725" dy="20">+</tspan><tspan x="2725" dy="20">+</tspan><tspan x="2725" dy="20">+</tspan><tspan x="2725" dy="20">+</tspan><tspan x="2725" dy="20">+</tspan><tspan x="2725" dy="20">+</tspan><tspan x="2725" dy="20">-</tspan><tspan x="2725" dy="20">-</tspan><tspan x="2725" dy="20">-</tspan></text>
<text y="1166"><tspan x="2741">m_Uid</tspan><tspan x="2741" dy="20">User()</tspan><tspan x="2741" dy="20">~User()</tspan><tspan x="2741" dy="20">join()</tspan><tspan x="2741" dy="20">leave()</tspan><tspan x="2741" dy="20">isMember()</tspan><tspan x="2741" dy="20">login()</tspan><tspan x="2741" dy="20">getId()</tspan><tspan x="2741" dy="20">getUsername()</tspan><tspan x="2741" dy="20">getFullName()</tspan><tspan x="2741" dy="20">getDefaultGroup()</tspan><tspan x="2741" dy="20">getHome()</tspan><tspan x="2741" dy="20">getShell()</tspan><tspan x="2741" dy="20">User()</tspan><tspan x="2741" dy="20">User()</tspan><tspan x="2741" dy="20">operator=()</tspan></text></g>

<g id="n_sp_pidns" class="n org"><rect x="2888" y="1124" width="188" height="360"/><line x1="2888" y1="1162" x2="3076" y2="1162"/><line x1="2888" y1="1181" x2="3076" y2="1181"/>
<text class="h" x="2982" y="1138">SharedPointer&lt; Userspace</text><text class="h" x="2982" y="1155">PidNamespace &gt;</text>
<text y="1196"><tspan x="2896">+</tspan><tspan x="2896" dy="20">+</tspan><tspan x="2896" dy="20">+</tspan><tspan x="2896" dy="20">+</tspan><tspan x="2896" dy="20">+</tspan><tspan x="2896" dy="20">+</tspan><tspan x="2896" dy="20">+</tspan><tspan x="2896" dy="20">+</tspan><tspan x="2896" dy="20">+</tspan><tspan x="2896" dy="20">+</tspan><tspan x="2896" dy="40">+</tspan><tspan x="2896" dy="20">+</tspan><tspan x="2896" dy="20">+</tspan><tspan x="2896" dy="20">-</tspan></text>
<text y="1196"><tspan x="2912">SharedPointer()</tspan><tspan x="2912" dy="20">SharedPointer()</tspan><tspan x="2912" dy="20">SharedPointer()</tspan><tspan x="2912" dy="20">SharedPointer()</tspan><tspan x="2912" dy="20">~SharedPointer()</tspan><tspan x="2912" dy="20">reset()</tspan><tspan x="2912" dy="20">reset()</tspan><tspan x="2912" dy="20">get()</tspan><tspan x="2912" dy="20">operator-&gt;()</tspan><tspan x="2912" dy="20">operator*()</tspan><tspan x="2912" dy="20">and 11 more...</tspan><tspan x="2912" dy="20">allocate()</tspan><tspan x="2912" dy="20">tryAllocate()</tspan><tspan x="2912" dy="20">tryAdopt()</tspan><tspan x="2912" dy="20">release()</tspan></text></g>

<g id="n_fscred" class="n gl"><rect x="3100" y="1222" width="170" height="164"/><line x1="3100" y1="1242" x2="3270" y2="1242"/><line x1="3100" y1="1362" x2="3270" y2="1362"/>
<text class="h" x="3185" y="1236">FilesystemCredentials</text>
<text y="1257"><tspan x="3108">+</tspan><tspan x="3108" dy="20">+</tspan><tspan x="3108" dy="20">+</tspan><tspan x="3108" dy="20">+</tspan><tspan x="3108" dy="20">+</tspan><tspan x="3108" dy="20">+</tspan><tspan x="3108" dy="20">+</tspan></text>
<text y="1257"><tspan x="3124">uid</tspan><tspan x="3124" dy="20">gid</tspan><tspan x="3124" dy="20">groups</tspan><tspan x="3124" dy="20">groupCount</tspan><tspan x="3124" dy="20">valid</tspan><tspan x="3124" dy="20">MaximumGroups</tspan><tspan x="3124" dy="20">inGroup()</tspan></text></g>

<g id="n_spinlockword" class="n gd"><rect x="3806" y="673" width="255" height="166"/><line x1="3806" y1="693" x2="4061" y2="693"/><line x1="3806" y1="713" x2="4061" y2="713"/>
<text class="h" x="3933.5" y="687">SpinlockWord</text>
<text y="708"><tspan x="3814">-</tspan><tspan x="3814" dy="20">+</tspan><tspan x="3814" dy="20">+</tspan><tspan x="3814" dy="20">+</tspan><tspan x="3814" dy="20">+</tspan><tspan x="3814" dy="20">+</tspan><tspan x="3814" dy="20">-</tspan></text>
<text y="708"><tspan x="3830">m_Value</tspan><tspan x="3830" dy="20">SpinlockWord()</tspan><tspan x="3830" dy="20">tryAcquire()</tspan><tspan x="3830" dy="20">acquired()</tspan><tspan x="3830" dy="20">release()</tspan><tspan x="3830" dy="20">releaseChecked()</tspan><tspan x="3830" dy="20">NOT_COPYABLE_OR_ASSIGNABLE()</tspan></text></g>

<g id="n_spinlock" class="n gl"><rect x="3806" y="1051" width="255" height="505"/><line x1="3806" y1="1071" x2="4061" y2="1071"/><line x1="3806" y1="1191" x2="4061" y2="1191"/>
<text class="h" x="3933.5" y="1065">Spinlock</text>
<text y="1086"><tspan x="3814">+</tspan><tspan x="3814" dy="20">-</tspan><tspan x="3814" dy="20">-</tspan><tspan x="3814" dy="20">-</tspan><tspan x="3814" dy="20">-</tspan><tspan x="3814" dy="20">-</tspan><tspan x="3814" dy="20">+</tspan><tspan x="3814" dy="20">+</tspan><tspan x="3814" dy="20">+</tspan><tspan x="3814" dy="20">+</tspan><tspan x="3814" dy="20">+</tspan><tspan x="3814" dy="20">+</tspan><tspan x="3814" dy="20">+</tspan><tspan x="3814" dy="20">-</tspan><tspan x="3814" dy="20">-</tspan><tspan x="3814" dy="20">-</tspan><tspan x="3814" dy="20">-</tspan><tspan x="3814" dy="20">-</tspan><tspan x="3814" dy="20">-</tspan><tspan x="3814" dy="20">-</tspan><tspan x="3814" dy="20">-</tspan><tspan x="3814" dy="20">-</tspan><tspan x="3814" dy="20">-</tspan><tspan x="3814" dy="20">-</tspan></text>
<text y="1086"><tspan x="3830">allow_recursion</tspan><tspan x="3830" dy="20">m_bInterrupts</tspan><tspan x="3830" dy="20">m_pOwner</tspan><tspan x="3830" dy="20">m_Level</tspan><tspan x="3830" dy="20">m_OwnedProcessor</tspan><tspan x="3830" dy="20">m_bAvoidTracking</tspan><tspan x="3830" dy="20">Spinlock()</tspan><tspan x="3830" dy="20">Spinlock()</tspan><tspan x="3830" dy="20">acquire()</tspan><tspan x="3830" dy="20">exit()</tspan><tspan x="3830" dy="20">release()</tspan><tspan x="3830" dy="20">acquired()</tspan><tspan x="3830" dy="20">interrupts()</tspan><tspan x="3830" dy="20">acquireContended()</tspan><tspan x="3830" dy="20">unlock()</tspan><tspan x="3830" dy="20">unwind()</tspan><tspan x="3830" dy="20">deferredReleaseWord()</tspan><tspan x="3830" dy="20">unlockForScheduler()</tspan><tspan x="3830" dy="20">trackRelease()</tspan><tspan x="3830" dy="20">acquisitionAddress()</tspan><tspan x="3830" dy="20">badMagic()</tspan><tspan x="3830" dy="20">badReleaseInterrupts()</tspan><tspan x="3830" dy="20">deadlock()</tspan><tspan x="3830" dy="20">NOT_COPYABLE_OR_ASSIGNABLE()</tspan></text></g>

<g id="n_mutex" class="n red"><rect x="4317" y="1241" width="205" height="125"/><line x1="4317" y1="1261" x2="4522" y2="1261"/><line x1="4317" y1="1281" x2="4522" y2="1281"/>
<text class="h" x="4419.5" y="1255">Mutex</text>
<text y="1296"><tspan x="4325">+</tspan><tspan x="4325" dy="20">+</tspan><tspan x="4325" dy="20">+</tspan><tspan x="4325" dy="20">+</tspan></text>
<text y="1296"><tspan x="4341">Mutex()</tspan><tspan x="4341" dy="20">Mutex()</tspan><tspan x="4341" dy="20">~Mutex()</tspan><tspan x="4341" dy="20">isOwnedByCurrentThread()</tspan></text></g>

<g id="n_cpuaffinity" class="n gl"><rect x="4590" y="1181" width="127" height="246"/><line x1="4590" y1="1201" x2="4717" y2="1201"/><line x1="4590" y1="1301" x2="4717" y2="1301"/>
<text class="h" x="4653.5" y="1195">CpuAffinityMask</text>
<text y="1216"><tspan x="4598">+</tspan><tspan x="4598" dy="20">+</tspan><tspan x="4598" dy="20">+</tspan><tspan x="4598" dy="20">+</tspan><tspan x="4598" dy="20">+</tspan><tspan x="4598" dy="20">+</tspan><tspan x="4598" dy="20">+</tspan><tspan x="4598" dy="20">+</tspan><tspan x="4598" dy="20">+</tspan><tspan x="4598" dy="20">+</tspan><tspan x="4598" dy="20">+</tspan></text>
<text y="1216"><tspan x="4614">words</tspan><tspan x="4614" dy="20">MaximumCpus</tspan><tspan x="4614" dy="20">WordBits</tspan><tspan x="4614" dy="20">WordCount</tspan><tspan x="4614" dy="20">ByteCount</tspan><tspan x="4614" dy="20">data()</tspan><tspan x="4614" dy="20">data()</tspan><tspan x="4614" dy="20">contains()</tspan><tspan x="4614" dy="20">set()</tspan><tspan x="4614" dy="20">empty()</tspan><tspan x="4614" dy="20">intersect()</tspan></text></g>

<g id="n_process" class="n red"><rect x="1817" y="1773" width="257" height="945"/><line x1="1817" y1="1793" x2="2074" y2="1793"/><line x1="1817" y1="2033" x2="2074" y2="2033"/>
<text class="h" x="1945.5" y="1787">Process</text>
<text y="1808"><tspan x="1825">-</tspan><tspan x="1825" dy="20">-</tspan><tspan x="1825" dy="20">-</tspan><tspan x="1825" dy="20">-</tspan><tspan x="1825" dy="20">-</tspan><tspan x="1825" dy="20">-</tspan><tspan x="1825" dy="20">-</tspan><tspan x="1825" dy="20">-</tspan><tspan x="1825" dy="20">-</tspan><tspan x="1825" dy="20">-</tspan></text>
<text y="1808"><tspan x="1841">m_Id</tspan><tspan x="1841" dy="20">m_UserspaceId</tspan><tspan x="1841" dy="20">m_ExitStatus</tspan><tspan x="1841" dy="20">m_bFilesystemContextReady</tspan><tspan x="1841" dy="20">m_UserReservationGeneration</tspan><tspan x="1841" dy="20">m_ContinuationEpoch</tspan><tspan x="1841" dy="20">m_nThreadJoinOperations</tspan><tspan x="1841" dy="20">m_bThreadJoinAdmissionClosed</tspan><tspan x="1841" dy="20">m_nExternalLeases</tspan><tspan x="1841" dy="20">m_bExternalLeaseAdmission</tspan><tspan x="1841" dy="20">Closed</tspan><tspan x="1841" dy="20">and 19 more...</tspan></text>
<text y="2048"><tspan x="1825">+</tspan><tspan x="1825" dy="20">+</tspan><tspan x="1825" dy="20">+</tspan><tspan x="1825" dy="20">+</tspan><tspan x="1825" dy="20">+</tspan><tspan x="1825" dy="20">+</tspan><tspan x="1825" dy="20">+</tspan><tspan x="1825" dy="20">+</tspan><tspan x="1825" dy="20">+</tspan><tspan x="1825" dy="20">+</tspan><tspan x="1825" dy="40">+</tspan><tspan x="1825" dy="20">+</tspan><tspan x="1825" dy="20">+</tspan><tspan x="1825" dy="20">#</tspan><tspan x="1825" dy="20">#</tspan><tspan x="1825" dy="20">#</tspan><tspan x="1825" dy="20">#</tspan><tspan x="1825" dy="20">#</tspan><tspan x="1825" dy="20">#</tspan><tspan x="1825" dy="20">#</tspan><tspan x="1825" dy="20">#</tspan><tspan x="1825" dy="20">#</tspan><tspan x="1825" dy="20">-</tspan><tspan x="1825" dy="20">-</tspan><tspan x="1825" dy="20">-</tspan><tspan x="1825" dy="20">-</tspan><tspan x="1825" dy="20">-</tspan><tspan x="1825" dy="20">-</tspan><tspan x="1825" dy="20">-</tspan><tspan x="1825" dy="20">-</tspan><tspan x="1825" dy="20">-</tspan><tspan x="1825" dy="20">-</tspan></text>
<text y="2048"><tspan x="1841">Process()</tspan><tspan x="1841" dy="20">Process()</tspan><tspan x="1841" dy="20">~Process()</tspan><tspan x="1841" dy="20">addThread()</tspan><tspan x="1841" dy="20">threadExiting()</tspan><tspan x="1841" dy="20">transferExecProcessSignals()</tspan><tspan x="1841" dy="20">removeThread()</tspan><tspan x="1841" dy="20">getNumThreads()</tspan><tspan x="1841" dy="20">acquireThread()</tspan><tspan x="1841" dy="20">acquireProcessSignalThread()</tspan><tspan x="1841" dy="20">and 87 more...</tspan><tspan x="1841" dy="20">currentFilesystemCredentials()</tspan><tspan x="1841" dy="20">getInit()</tspan><tspan x="1841" dy="20">setInit()</tspan><tspan x="1841" dy="20">publishAccountIdentity()</tspan><tspan x="1841" dy="20">Process()</tspan><tspan x="1841" dy="20">Process()</tspan><tspan x="1841" dy="20">publish()</tspan><tspan x="1841" dy="20">prepareForDestruction()</tspan><tspan x="1841" dy="20">enableTimeAccountingReports()</tspan><tspan x="1841" dy="20">setTimeAccountingReportInterest()</tspan><tspan x="1841" dy="20">loadFilesystemIds()</tspan><tspan x="1841" dy="20">publishFilesystemIds()</tspan><tspan x="1841" dy="20">finishTermination()</tspan><tspan x="1841" dy="20">Process()</tspan><tspan x="1841" dy="20">operator=()</tspan><tspan x="1841" dy="20">reportTimesUpdated()</tspan><tspan x="1841" dy="20">drainDeferredTimeAccounting()</tspan><tspan x="1841" dy="20">closeDeferredTimeAccounting()</tspan><tspan x="1841" dy="20">publishTimeAccounting()</tspan><tspan x="1841" dy="20">reportTimeAccounting()</tspan><tspan x="1841" dy="20">queueTimeAccountingReport()</tspan><tspan x="1841" dy="20">processTerminated()</tspan><tspan x="1841" dy="20">and 15 more...</tspan></text></g>

<g id="n_thread" class="n gd"><rect x="3146" y="2804" width="237" height="965"/><line x1="3146" y1="2824" x2="3383" y2="2824"/><line x1="3146" y1="3044" x2="3383" y2="3044"/>
<text class="h" x="3264.5" y="2818">Thread</text>
<text y="2839"><tspan x="3154">-</tspan><tspan x="3154" dy="20">-</tspan><tspan x="3154" dy="20">-</tspan><tspan x="3154" dy="20">-</tspan><tspan x="3154" dy="20">-</tspan><tspan x="3154" dy="20">-</tspan><tspan x="3154" dy="20">-</tspan><tspan x="3154" dy="20">-</tspan><tspan x="3154" dy="20">-</tspan><tspan x="3154" dy="20">-</tspan></text>
<text y="2839"><tspan x="3170">m_nStateLevel</tspan><tspan x="3170" dy="20">m_FilesystemUid</tspan><tspan x="3170" dy="20">m_FilesystemGid</tspan><tspan x="3170" dy="20">m_FilesystemIdsValid</tspan><tspan x="3170" dy="20">m_UserTime</tspan><tspan x="3170" dy="20">m_KernelTime</tspan><tspan x="3170" dy="20">m_CurrentTimeAccountingMode</tspan><tspan x="3170" dy="20">m_pAllocatedStack</tspan><tspan x="3170" dy="20">m_Id</tspan><tspan x="3170" dy="20">m_TaskId</tspan><tspan x="3170" dy="20">and 55 more...</tspan></text>
<text y="3059"><tspan x="3154">+</tspan><tspan x="3154" dy="20">+</tspan><tspan x="3154" dy="20">+</tspan><tspan x="3154" dy="20">+</tspan><tspan x="3154" dy="20">+</tspan><tspan x="3154" dy="20">+</tspan><tspan x="3154" dy="20">+</tspan><tspan x="3154" dy="20">+</tspan><tspan x="3154" dy="20">+</tspan><tspan x="3154" dy="20">+</tspan><tspan x="3154" dy="40">+</tspan><tspan x="3154" dy="20">#</tspan><tspan x="3154" dy="20">#</tspan><tspan x="3154" dy="20">#</tspan><tspan x="3154" dy="20">#</tspan><tspan x="3154" dy="20">#</tspan><tspan x="3154" dy="20">#</tspan><tspan x="3154" dy="20">#</tspan><tspan x="3154" dy="20">#</tspan><tspan x="3154" dy="20">#</tspan><tspan x="3154" dy="20">#</tspan><tspan x="3154" dy="40">-</tspan><tspan x="3154" dy="40">-</tspan><tspan x="3154" dy="20">-</tspan><tspan x="3154" dy="20">-</tspan><tspan x="3154" dy="20">-</tspan><tspan x="3154" dy="20">-</tspan><tspan x="3154" dy="20">-</tspan><tspan x="3154" dy="20">-</tspan><tspan x="3154" dy="20">-</tspan><tspan x="3154" dy="20">-</tspan><tspan x="3154" dy="40">-</tspan></text>
<text y="3059"><tspan x="3170">currentUserReturnFrame()</tspan><tspan x="3170" dy="20">tryRequireSignalFrames()</tspan><tspan x="3170" dy="20">clearSignalFrameRequirement()</tspan><tspan x="3170" dy="20">setUserReturnSignalParked()</tspan><tspan x="3170" dy="20">canSkipUserReturnWork()</tspan><tspan x="3170" dy="20">clearUserReturnWorkIfIdle()</tspan><tspan x="3170" dy="20">userReturnWorkPending()</tspan><tspan x="3170" dy="20">requiresSignalFrames()</tspan><tspan x="3170" dy="20">Thread()</tspan><tspan x="3170" dy="20">Thread()</tspan><tspan x="3170" dy="20">and 132 more...</tspan><tspan x="3170" dy="20">threadExited()</tspan><tspan x="3170" dy="20">setScheduler()</tspan><tspan x="3170" dy="20">deferEvents()</tspan><tspan x="3170" dy="20">resumeEvents()</tspan><tspan x="3170" dy="20">deferTermination()</tspan><tspan x="3170" dy="20">resumeTermination()</tspan><tspan x="3170" dy="20">markUserReturnWorkFlag()</tspan><tspan x="3170" dy="20">clearUserReturnWorkFlag()</tspan><tspan x="3170" dy="20">markUserReturnWorkPending()</tspan><tspan x="3170" dy="20">registerDeferredScope()</tspan><tspan x="3170" dy="20">armStateCleanup()</tspan><tspan x="3170" dy="20">and 10 more...</tspan><tspan x="3170" dy="20">registerFreshTermination</tspan><tspan x="3170" dy="20">Deferral()</tspan><tspan x="3170" dy="20">Thread()</tspan><tspan x="3170" dy="20">Thread()</tspan><tspan x="3170" dy="20">operator=()</tspan><tspan x="3170" dy="20">publishTimeAccounting()</tspan><tspan x="3170" dy="20">initialisePlacement()</tspan><tspan x="3170" dy="20">publishReadyNotification()</tspan><tspan x="3170" dy="20">cleanStateLevel()</tspan><tspan x="3170" dy="20">beginTemporarySignalMask()</tspan><tspan x="3170" dy="20">finishTemporarySignalMask()</tspan><tspan x="3170" dy="20">and 24 more...</tspan><tspan x="3170" dy="20">discardJoin()</tspan></text></g>

<g id="n_threadtime" class="n red"><rect x="2765" y="2131" width="217" height="225"/><line x1="2765" y1="2151" x2="2982" y2="2151"/><line x1="2765" y1="2171" x2="2982" y2="2171"/>
<text class="h" x="2873.5" y="2145">ThreadTimeAccounting</text>
<text y="2186"><tspan x="2773">+</tspan><tspan x="2773" dy="20">+</tspan><tspan x="2773" dy="20">+</tspan><tspan x="2773" dy="20">+</tspan><tspan x="2773" dy="20">+</tspan><tspan x="2773" dy="20">-</tspan><tspan x="2773" dy="20">-</tspan><tspan x="2773" dy="20">-</tspan><tspan x="2773" dy="20">-</tspan></text>
<text y="2186"><tspan x="2789">ThreadTimeAccounting()</tspan><tspan x="2789" dy="20">record()</tspan><tspan x="2789" dy="20">recordAtInterruptDisabled()</tspan><tspan x="2789" dy="20">elapsed()</tspan><tspan x="2789" dy="20">elapsedAtInterruptDisabled()</tspan><tspan x="2789" dy="20">entry()</tspan><tspan x="2789" dy="20">ThreadTimeAccounting()</tspan><tspan x="2789" dy="20">operator=()</tspan><tspan x="2789" dy="20">installProcessorBaseline()</tspan></text></g>

<g id="n_threadplacement" class="n gl"><rect x="3201" y="2201" width="128" height="85"/><line x1="3201" y1="2221" x2="3329" y2="2221"/><line x1="3201" y1="2241" x2="3329" y2="2241"/>
<text class="h" x="3265" y="2215">ThreadPlacement</text>
<text y="2236"><tspan x="3209">+</tspan><tspan x="3209" dy="20">+</tspan><tspan x="3209" dy="20">+</tspan></text>
<text y="2236"><tspan x="3225">migratable</tspan><tspan x="3225" dy="20">initialUser()</tspan><tspan x="3225" dy="20">inherit()</tspan></text></g>

<g id="n_list_event" class="n org"><rect x="3354" y="2101" width="121" height="285"/><line x1="3354" y1="2121" x2="3475" y2="2121"/><line x1="3354" y1="2161" x2="3475" y2="2161"/>
<text class="h" x="3414.5" y="2115">List&lt; Event * &gt;</text>
<text y="2136"><tspan x="3362">-</tspan><tspan x="3362" dy="20">-</tspan><tspan x="3362" dy="20">+</tspan><tspan x="3362" dy="20">+</tspan><tspan x="3362" dy="20">+</tspan><tspan x="3362" dy="20">+</tspan><tspan x="3362" dy="20">+</tspan><tspan x="3362" dy="20">+</tspan><tspan x="3362" dy="20">+</tspan><tspan x="3362" dy="20">+</tspan><tspan x="3362" dy="20">+</tspan><tspan x="3362" dy="20">+</tspan></text>
<text y="2136"><tspan x="3378">m_Count</tspan><tspan x="3378" dy="20">m_Magic</tspan><tspan x="3378" dy="20">List()</tspan><tspan x="3378" dy="20">List()</tspan><tspan x="3378" dy="20">~List()</tspan><tspan x="3378" dy="20">operator=()</tspan><tspan x="3378" dy="20">size()</tspan><tspan x="3378" dy="20">count()</tspan><tspan x="3378" dy="20">pushBack()</tspan><tspan x="3378" dy="20">pushBack()</tspan><tspan x="3378" dy="20">tryPushBack()</tspan><tspan x="3378" dy="20">tryPushBack()</tspan><tspan x="3378" dy="20">and 16 more...</tspan></text></g>

<g id="n_altstack" class="n gl"><rect x="3499" y="2181" width="203" height="125"/><line x1="3499" y1="2201" x2="3702" y2="2201"/><line x1="3499" y1="2281" x2="3702" y2="2281"/>
<text class="h" x="3600.5" y="2195">Thread::AlternateSignalStack</text>
<text y="2216"><tspan x="3507">+</tspan><tspan x="3507" dy="20">+</tspan><tspan x="3507" dy="20">+</tspan><tspan x="3507" dy="20">+</tspan><tspan x="3507" dy="20">+</tspan></text>
<text y="2216"><tspan x="3523">base</tspan><tspan x="3523" dy="20">size</tspan><tspan x="3523" dy="20">enabled</tspan><tspan x="3523" dy="20">inUse</tspan><tspan x="3523" dy="20">AlternateSignalStack()</tspan></text></g>

<g id="n_execpers" class="n gl"><rect x="3728" y="2161" width="149" height="165"/><line x1="3728" y1="2181" x2="3877" y2="2181"/><line x1="3728" y1="2261" x2="3877" y2="2261"/>
<text class="h" x="3802.5" y="2175">ExecutionPersonality</text>
<text y="2196"><tspan x="3736">+</tspan><tspan x="3736" dy="20">+</tspan><tspan x="3736" dy="20">+</tspan><tspan x="3736" dy="20">-</tspan><tspan x="3736" dy="20">+</tspan><tspan x="3736" dy="20">+</tspan><tspan x="3736" dy="20">+</tspan></text>
<text y="2196"><tspan x="3752">Native</tspan><tspan x="3752" dy="20">Linux32</tspan><tspan x="3752" dy="20">Query</tspan><tspan x="3752" dy="20">m_Value</tspan><tspan x="3752" dy="20">value()</tspan><tspan x="3752" dy="20">select()</tspan><tspan x="3752" dy="20">inherit()</tspan></text></g>

<g id="n_dsr" class="n gd"><rect x="3901" y="2141" width="181" height="205"/><line x1="3901" y1="2161" x2="4082" y2="2161"/><line x1="3901" y1="2301" x2="4082" y2="2301"/>
<text class="h" x="3991.5" y="2155">DeferredScopeRecord</text>
<text y="2176"><tspan x="3909">+</tspan><tspan x="3909" dy="20">+</tspan><tspan x="3909" dy="20">+</tspan><tspan x="3909" dy="20">+</tspan><tspan x="3909" dy="20">+</tspan><tspan x="3909" dy="20">+</tspan><tspan x="3909" dy="20">+</tspan><tspan x="3909" dy="20">+</tspan><tspan x="3909" dy="20">-</tspan></text>
<text y="2176"><tspan x="3925">stateLevel</tspan><tspan x="3925" dy="20">sequence</tspan><tspan x="3925" dy="20">defersTermination</tspan><tspan x="3925" dy="20">defersEvents</tspan><tspan x="3925" dy="20">cleanup</tspan><tspan x="3925" dy="20">context</tspan><tspan x="3925" dy="20">armed</tspan><tspan x="3925" dy="20">DeferredScopeRecord()</tspan><tspan x="3925" dy="20">DeferredScopeRecord()</tspan></text></g>

<g id="n_vas_stack" class="n gd"><rect x="4376" y="2134" width="148" height="219"/><line x1="4376" y1="2172" x2="4524" y2="2172"/><line x1="4376" y1="2232" x2="4524" y2="2232"/>
<text class="h" x="4450" y="2148">VirtualAddressSpace</text><text class="h" x="4450" y="2164">::Stack</text>
<text y="2187"><tspan x="4384">-</tspan><tspan x="4384" dy="20">-</tspan><tspan x="4384" dy="20">-</tspan><tspan x="4384" dy="20">+</tspan><tspan x="4384" dy="20">+</tspan><tspan x="4384" dy="20">+</tspan><tspan x="4384" dy="20">+</tspan><tspan x="4384" dy="20">+</tspan><tspan x="4384" dy="20">+</tspan></text>
<text y="2187"><tspan x="4400">m_Top</tspan><tspan x="4400" dy="20">m_Size</tspan><tspan x="4400" dy="20">m_RegionId</tspan><tspan x="4400" dy="20">Stack()</tspan><tspan x="4400" dy="20">regionId()</tspan><tspan x="4400" dy="20">getTop()</tspan><tspan x="4400" dy="20">getBase()</tspan><tspan x="4400" dy="20">getSize()</tspan><tspan x="4400" dy="20">operator void *()</tspan></text></g>

<g id="n_dtrn" class="n gd"><rect x="4010" y="3925" width="200" height="65"/><line x1="4010" y1="3945" x2="4210" y2="3945"/><line x1="4010" y1="3965" x2="4210" y2="3965"/>
<text class="h" x="4110" y="3939">DeferredThreadReapNode</text>
<text x="4018" y="3980">+</text><text x="4034" y="3980">DeferredThreadReapNode()</text></g>

<g id="n_subsystem" class="n gd"><rect x="1633" y="3090" width="202" height="385"/><line x1="1633" y1="3110" x2="1835" y2="3110"/><line x1="1633" y1="3130" x2="1835" y2="3130"/>
<text class="h" x="1734" y="3104">Subsystem</text>
<text x="1641" y="3125">#</text><text x="1657" y="3125">m_Type</text>
<text y="3145"><tspan x="1641">+</tspan><tspan x="1641" dy="20">+</tspan><tspan x="1641" dy="20">+</tspan><tspan x="1641" dy="20">+</tspan><tspan x="1641" dy="20">+</tspan><tspan x="1641" dy="20">+</tspan><tspan x="1641" dy="20">+</tspan><tspan x="1641" dy="20">+</tspan><tspan x="1641" dy="20">+</tspan><tspan x="1641" dy="20">+</tspan><tspan x="1641" dy="40">#</tspan><tspan x="1641" dy="20">#</tspan><tspan x="1641" dy="40">#</tspan><tspan x="1641" dy="20">#</tspan><tspan x="1641" dy="20">-</tspan></text>
<text y="3145"><tspan x="1657">userReturnCheckpoint()</tspan><tspan x="1657" dy="20">userReturnEvent()</tspan><tspan x="1657" dy="20">Subsystem()</tspan><tspan x="1657" dy="20">Subsystem()</tspan><tspan x="1657" dy="20">Subsystem()</tspan><tspan x="1657" dy="20">~Subsystem()</tspan><tspan x="1657" dy="20">acquire()</tspan><tspan x="1657" dy="20">release()</tspan><tspan x="1657" dy="20">exit()</tspan><tspan x="1657" dy="20">kill()</tspan><tspan x="1657" dy="20">and 8 more...</tspan><tspan x="1657" dy="20">prepareThreadsForExec()</tspan><tspan x="1657" dy="20">preserveProcessSignalsFor</tspan><tspan x="1657" dy="20">ThreadExit()</tspan><tspan x="1657" dy="20">threadExiting()</tspan><tspan x="1657" dy="20">threadRemoved()</tspan><tspan x="1657" dy="20">operator=()</tspan></text></g>

<g id="n_channel" class="n gl"><rect x="2298" y="3234" width="146" height="103"/><line x1="2298" y1="3254" x2="2444" y2="3254"/><line x1="2298" y1="3294" x2="2444" y2="3294"/>
<text class="h" x="2371" y="3248">WaitQueue::Channel</text>
<text y="3269"><tspan x="2306">+</tspan><tspan x="2306" dy="20">+</tspan><tspan x="2306" dy="20">+</tspan><tspan x="2306" dy="20">+</tspan></text>
<text y="3269"><tspan x="2322">owner</tspan><tspan x="2322" dy="20">value</tspan><tspan x="2322" dy="20">Channel()</tspan><tspan x="2322" dy="20">operator==()</tspan></text></g>

<g id="n_vector" class="n org"><rect x="2115" y="3901" width="142" height="345"/><line x1="2115" y1="3921" x2="2257" y2="3921"/><line x1="2115" y1="4001" x2="2257" y2="4001"/>
<text class="h" x="2186" y="3915">Vector&lt; Thread * &gt;</text>
<text y="3936"><tspan x="2123">-</tspan><tspan x="2123" dy="20">-</tspan><tspan x="2123" dy="20">-</tspan><tspan x="2123" dy="20">-</tspan><tspan x="2123" dy="20">+</tspan><tspan x="2123" dy="20">+</tspan><tspan x="2123" dy="20">+</tspan><tspan x="2123" dy="20">+</tspan><tspan x="2123" dy="20">+</tspan><tspan x="2123" dy="20">+</tspan><tspan x="2123" dy="20">+</tspan><tspan x="2123" dy="20">+</tspan><tspan x="2123" dy="20">+</tspan><tspan x="2123" dy="20">+</tspan><tspan x="2123" dy="40">-</tspan></text>
<text y="3936"><tspan x="2139">m_Size</tspan><tspan x="2139" dy="20">m_Count</tspan><tspan x="2139" dy="20">m_Start</tspan><tspan x="2139" dy="20">m_ReserveFactor</tspan><tspan x="2139" dy="20">Vector()</tspan><tspan x="2139" dy="20">Vector()</tspan><tspan x="2139" dy="20">Vector()</tspan><tspan x="2139" dy="20">~Vector()</tspan><tspan x="2139" dy="20">operator=()</tspan><tspan x="2139" dy="20">operator[]()</tspan><tspan x="2139" dy="20">operator[]()</tspan><tspan x="2139" dy="20">size()</tspan><tspan x="2139" dy="20">count()</tspan><tspan x="2139" dy="20">pushBack()</tspan><tspan x="2139" dy="20">and 25 more...</tspan><tspan x="2139" dy="20">reserve()</tspan></text></g>

<g id="n_waiter" class="n gl"><rect x="2281" y="3921" width="181" height="305"/><line x1="2281" y1="3941" x2="2462" y2="3941"/><line x1="2281" y1="4061" x2="2462" y2="4061"/>
<text class="h" x="2371.5" y="3935">WaitQueue::Waiter</text>
<text y="3956"><tspan x="2289">+</tspan><tspan x="2289" dy="20">+</tspan><tspan x="2289" dy="20">+</tspan><tspan x="2289" dy="20">+</tspan><tspan x="2289" dy="20">+</tspan><tspan x="2289" dy="20">+</tspan><tspan x="2289" dy="20">+</tspan><tspan x="2289" dy="20">+</tspan><tspan x="2289" dy="20">+</tspan><tspan x="2289" dy="20">+</tspan><tspan x="2289" dy="20">+</tspan><tspan x="2289" dy="20">+</tspan><tspan x="2289" dy="20">+</tspan><tspan x="2289" dy="20">+</tspan></text>
<text y="3956"><tspan x="2305">channelGeneration</tspan><tspan x="2305" dy="20">stateLevel</tspan><tspan x="2305" dy="20">reason</tspan><tspan x="2305" dy="20">queued</tspan><tspan x="2305" dy="20">legacyOnAbandon</tspan><tspan x="2305" dy="20">legacyAbandonContext</tspan><tspan x="2305" dy="20">loadQueue()</tspan><tspan x="2305" dy="20">storeQueue()</tspan><tspan x="2305" dy="20">loadReason()</tspan><tspan x="2305" dy="20">storeReason()</tspan><tspan x="2305" dy="20">isQueued()</tspan><tspan x="2305" dy="20">setQueued()</tspan><tspan x="2305" dy="20">storeChannel()</tspan><tspan x="2305" dy="20">snapshotChannel()</tspan></text></g>

<g id="n_waitqueue" class="n gd"><rect x="2032" y="4565" width="199" height="385"/><line x1="2032" y1="4585" x2="2231" y2="4585"/><line x1="2032" y1="4625" x2="2231" y2="4625"/>
<text class="h" x="2131.5" y="4579">WaitQueue</text>
<text y="4600"><tspan x="2040">-</tspan><tspan x="2040" dy="20">-</tspan><tspan x="2040" dy="20">+</tspan><tspan x="2040" dy="20">+</tspan><tspan x="2040" dy="20">+</tspan><tspan x="2040" dy="20">+</tspan><tspan x="2040" dy="20">+</tspan><tspan x="2040" dy="20">+</tspan><tspan x="2040" dy="20">+</tspan><tspan x="2040" dy="20">-</tspan><tspan x="2040" dy="20">-</tspan><tspan x="2040" dy="20">-</tspan><tspan x="2040" dy="20">-</tspan><tspan x="2040" dy="20">-</tspan><tspan x="2040" dy="20">-</tspan><tspan x="2040" dy="20">-</tspan><tspan x="2040" dy="20">-</tspan><tspan x="2040" dy="20">-</tspan></text>
<text y="4600"><tspan x="2056">m_WaiterCount</tspan><tspan x="2056" dy="20">m_WaitIntent</tspan><tspan x="2056" dy="20">WaitQueue()</tspan><tspan x="2056" dy="20">~WaitQueue()</tspan><tspan x="2056" dy="20">acquire()</tspan><tspan x="2056" dy="20">wakeOne()</tspan><tspan x="2056" dy="20">wakeAll()</tspan><tspan x="2056" dy="20">wakeAllIfWaiting()</tspan><tspan x="2056" dy="20">waiterCount()</tspan><tspan x="2056" dy="20">wait()</tspan><tspan x="2056" dy="20">wakeOneLocked()</tspan><tspan x="2056" dy="20">wakeAllLocked()</tspan><tspan x="2056" dy="20">wakeAndRequeueLocked()</tspan><tspan x="2056" dy="20">completeWaiter()</tspan><tspan x="2056" dy="20">removeWaiterLocked()</tspan><tspan x="2056" dy="20">clearWaitIntentIfEmpty()</tspan><tspan x="2056" dy="20">cancel()</tspan><tspan x="2056" dy="20">publishReady()</tspan></text></g>

<g id="n_ownedthread" class="n gd"><rect x="3043" y="4271" width="140" height="265"/><line x1="3043" y1="4291" x2="3183" y2="4291"/><line x1="3043" y1="4311" x2="3183" y2="4311"/>
<text class="h" x="3113" y="4285">OwnedThread</text>
<text y="4326"><tspan x="3051">+</tspan><tspan x="3051" dy="20">+</tspan><tspan x="3051" dy="20">+</tspan><tspan x="3051" dy="20">+</tspan><tspan x="3051" dy="20">+</tspan><tspan x="3051" dy="20">+</tspan><tspan x="3051" dy="20">+</tspan><tspan x="3051" dy="20">+</tspan><tspan x="3051" dy="20">+</tspan><tspan x="3051" dy="20">-</tspan><tspan x="3051" dy="20">-</tspan></text>
<text y="4326"><tspan x="3067">OwnedThread()</tspan><tspan x="3067" dy="20">OwnedThread()</tspan><tspan x="3067" dy="20">~OwnedThread()</tspan><tspan x="3067" dy="20">adopt()</tspan><tspan x="3067" dy="20">stop()</tspan><tspan x="3067" dy="20">join()</tspan><tspan x="3067" dy="20">get()</tspan><tspan x="3067" dy="20">operator-&gt;()</tspan><tspan x="3067" dy="20">operator bool()</tspan><tspan x="3067" dy="20">OwnedThread()</tspan><tspan x="3067" dy="20">operator=()</tspan></text></g>

<g id="n_statelevel" class="n red"><rect x="3268" y="4560" width="258" height="394"/><line x1="3268" y1="4580" x2="3526" y2="4580"/><line x1="3268" y1="4860" x2="3526" y2="4860"/>
<text class="h" x="3397" y="4574">Thread::StateLevel</text>
<text y="4595"><tspan x="3276">+</tspan><tspan x="3276" dy="20">+</tspan><tspan x="3276" dy="20">+</tspan><tspan x="3276" dy="20">+</tspan><tspan x="3276" dy="20">+</tspan><tspan x="3276" dy="20">+</tspan><tspan x="3276" dy="20">+</tspan><tspan x="3276" dy="20">+</tspan><tspan x="3276" dy="40">+</tspan><tspan x="3276" dy="20">+</tspan><tspan x="3276" dy="20">+</tspan><tspan x="3276" dy="20">+</tspan><tspan x="3276" dy="20">+</tspan><tspan x="3276" dy="45">+</tspan><tspan x="3276" dy="20">+</tspan><tspan x="3276" dy="20">+</tspan><tspan x="3276" dy="20">+</tspan></text>
<text y="4595"><tspan x="3292">m_State</tspan><tspan x="3292" dy="20">m_SignalMask</tspan><tspan x="3292" dy="20">m_SavedSignalMask</tspan><tspan x="3292" dy="20">m_TemporarySignalMaskActive</tspan><tspan x="3292" dy="20">m_TemporarySignalWaitInterrupted</tspan><tspan x="3292" dy="20">m_DeferredSignalMaskRestore</tspan><tspan x="3292" dy="20">m_DispatchedSignalNumber</tspan><tspan x="3292" dy="20">m_DispatchedSignalContinuation</tspan><tspan x="3292" dy="20">Epoch</tspan><tspan x="3292" dy="20">m_bOwnsAlternateSignalStack</tspan><tspan x="3292" dy="20">m_Errno</tspan><tspan x="3292" dy="20">m_InterruptionReason</tspan><tspan x="3292" dy="20">m_bDispatchingWaitEvent</tspan><tspan x="3292" dy="20">m_bTerminalWaitCancelled</tspan><tspan x="3292" dy="20">BeforeBlock</tspan><tspan x="3292" dy="25">StateLevel()</tspan><tspan x="3292" dy="20">~StateLevel()</tspan><tspan x="3292" dy="20">StateLevel()</tspan><tspan x="3292" dy="20">operator=()</tspan></text></g>

<g id="n_mpsc" class="n org"><rect x="3519" y="4979" width="203" height="289"/><line x1="3519" y1="5048" x2="3722" y2="5048"/><line x1="3519" y1="5065" x2="3722" y2="5065"/>
<text class="h" x="3620.5" y="4993">IntrusiveMpscQueue</text><text class="h" x="3620.5" y="5009">&lt; DeferredThreadReapNode,</text><text class="h" x="3620.5" y="5025">&amp;DeferredThreadReapNode</text><text class="h" x="3620.5" y="5041">::next &gt;</text>
<text y="5080"><tspan x="3527">+</tspan><tspan x="3527" dy="20">+</tspan><tspan x="3527" dy="20">+</tspan><tspan x="3527" dy="20">-</tspan><tspan x="3527" dy="20">-</tspan><tspan x="3527" dy="20">-</tspan><tspan x="3527" dy="20">-</tspan><tspan x="3527" dy="20">-</tspan><tspan x="3527" dy="20">-</tspan><tspan x="3527" dy="20">-</tspan></text>
<text y="5080"><tspan x="3543">IntrusiveMpscQueue()</tspan><tspan x="3543" dy="20">push()</tspan><tspan x="3543" dy="20">pop()</tspan><tspan x="3543" dy="20">IntrusiveMpscQueue()</tspan><tspan x="3543" dy="20">operator=()</tspan><tspan x="3543" dy="20">beginPush()</tspan><tspan x="3543" dy="20">loadHead()</tspan><tspan x="3543" dy="20">finishPush()</tspan><tspan x="3543" dy="20">loadNext()</tspan><tspan x="3543" dy="20">storeNext()</tspan></text></g>

<g id="n_intakenode" class="n dk"><rect x="98" y="4725" width="191" height="65"/><line x1="98" y1="4745" x2="289" y2="4745"/><line x1="98" y1="4760" x2="289" y2="4760"/>
<text class="h" x="193.5" y="4739">RequestQueue::IntakeNode</text>
<text x="128" y="4777">+</text><text x="160" y="4777">IntakeNode()</text></g>

<g id="n_request" class="n gd"><rect x="72" y="5292" width="170" height="364"/><line x1="72" y1="5312" x2="242" y2="5312"/><line x1="72" y1="5572" x2="242" y2="5572"/>
<text class="h" x="157" y="5306">RequestQueue::Request</text>
<text y="5327"><tspan x="80">+</tspan><tspan x="80" dy="20">+</tspan><tspan x="80" dy="20">+</tspan><tspan x="80" dy="20">+</tspan><tspan x="80" dy="20">+</tspan><tspan x="80" dy="20">+</tspan><tspan x="80" dy="20">+</tspan><tspan x="80" dy="20">+</tspan><tspan x="80" dy="20">-</tspan><tspan x="80" dy="20">-</tspan><tspan x="80" dy="20">-</tspan><tspan x="80" dy="20">-</tspan><tspan x="80" dy="20">-</tspan></text>
<text y="5327"><tspan x="96">p1</tspan><tspan x="96" dy="20">p2</tspan><tspan x="96" dy="20">p3</tspan><tspan x="96" dy="20">p4</tspan><tspan x="96" dy="20">p5</tspan><tspan x="96" dy="20">p6</tspan><tspan x="96" dy="20">p7</tspan><tspan x="96" dy="20">p8</tspan><tspan x="96" dy="20">m_ReturnValue</tspan><tspan x="96" dy="20">m_Priority</tspan><tspan x="96" dy="20">m_Asynchronous</tspan><tspan x="96" dy="20">m_Rejected</tspan><tspan x="96" dy="20">m_Completed</tspan></text>
<text y="5587"><tspan x="80">+</tspan><tspan x="80" dy="20">-</tspan><tspan x="80" dy="20">-</tspan><tspan x="80" dy="20">-</tspan></text>
<text y="5587"><tspan x="96">Request()</tspan><tspan x="96" dy="20">~Request()</tspan><tspan x="96" dy="20">Request()</tspan><tspan x="96" dy="20">operator=()</tspan></text></g>

<g id="n_prealloc" class="n gl"><rect x="109" y="6062" width="256" height="180"/><line x1="109" y1="6100" x2="365" y2="6100"/><line x1="109" y1="6140" x2="365" y2="6140"/>
<text class="h" x="237" y="6076">RequestQueue::Preallocated</text><text class="h" x="237" y="6092">Request</text>
<text y="6115"><tspan x="117">-</tspan><tspan x="117" dy="20">-</tspan><tspan x="117" dy="20">+</tspan><tspan x="117" dy="20">+</tspan><tspan x="117" dy="20">+</tspan><tspan x="117" dy="20">+</tspan><tspan x="117" dy="20">-</tspan></text>
<text y="6115"><tspan x="133">m_ReleaseCallback</tspan><tspan x="133" dy="20">m_ReleaseContext</tspan><tspan x="133" dy="20">PreallocatedRequest()</tspan><tspan x="133" dy="20">PreallocatedRequest()</tspan><tspan x="133" dy="20">~PreallocatedRequest()</tspan><tspan x="133" dy="20">isAvailable()</tspan><tspan x="133" dy="20">NOT_COPYABLE_OR_ASSIGNABLE()</tspan></text></g>

<g id="n_condvar" class="n gd"><rect x="855" y="5372" width="166" height="205"/><line x1="855" y1="5392" x2="1021" y2="5392"/><line x1="855" y1="5412" x2="1021" y2="5412"/>
<text class="h" x="938" y="5386">ConditionVariable</text>
<text y="5407"><tspan x="863">-</tspan><tspan x="863" dy="20">+</tspan><tspan x="863" dy="20">+</tspan><tspan x="863" dy="20">+</tspan><tspan x="863" dy="20">+</tspan><tspan x="863" dy="20">+</tspan><tspan x="863" dy="20">+</tspan><tspan x="863" dy="20">+</tspan><tspan x="863" dy="20">+</tspan></text>
<text y="5407"><tspan x="879">m_Private</tspan><tspan x="879" dy="20">ConditionVariable()</tspan><tspan x="879" dy="20">~ConditionVariable()</tspan><tspan x="879" dy="20">wait()</tspan><tspan x="879" dy="20">wait()</tspan><tspan x="879" dy="20">waitForCompletion()</tspan><tspan x="879" dy="20">signal()</tspan><tspan x="879" dy="20">broadcast()</tspan><tspan x="879" dy="20">mutexAcquired()</tspan></text></g>

<g id="n_sww" class="n gd"><rect x="2040" y="5442" width="182" height="65"/><line x1="2040" y1="5462" x2="2222" y2="5462"/><line x1="2040" y1="5482" x2="2222" y2="5482"/>
<text class="h" x="2131" y="5456">SchedulerWorkerWake</text>
<text x="2048" y="5497">+</text><text x="2064" y="5497">SchedulerWorkerWake()</text></g>

<g id="n_pps" class="n gl"><rect x="3073" y="5735" width="265" height="838"/><line x1="3073" y1="5755" x2="3338" y2="5755"/><line x1="3073" y1="5975" x2="3338" y2="5975"/>
<text class="h" x="3205.5" y="5749">PerProcessorScheduler</text>
<text y="5770"><tspan x="3081">-</tspan><tspan x="3081" dy="20">-</tspan><tspan x="3081" dy="20">-</tspan><tspan x="3081" dy="20">-</tspan><tspan x="3081" dy="20">-</tspan><tspan x="3081" dy="20">-</tspan><tspan x="3081" dy="20">-</tspan><tspan x="3081" dy="20">-</tspan><tspan x="3081" dy="20">-</tspan><tspan x="3081" dy="20">-</tspan><tspan x="3081" dy="20">-</tspan></text>
<text y="5770"><tspan x="3097">m_NewThreadAdmissionOpen</tspan><tspan x="3097" dy="20">m_StopNewThreadWorker</tspan><tspan x="3097" dy="20">m_AffinityAdmissionOpen</tspan><tspan x="3097" dy="20">m_LogicalCpu</tspan><tspan x="3097" dy="20">m_PhysicalCpu</tspan><tspan x="3097" dy="20">m_NominalQuantumNs</tspan><tspan x="3097" dy="20">m_IdleWakeRequested</tspan><tspan x="3097" dy="20">m_SchedulerTickCounter</tspan><tspan x="3097" dy="20">m_UserReturnDiagnosticSequence</tspan><tspan x="3097" dy="20">DeferredReapPublicationClosed</tspan><tspan x="3097" dy="20">DeferredReapPublicationCountMask</tspan></text>
<text y="5990"><tspan x="3081">+</tspan><tspan x="3081" dy="19.7">+</tspan><tspan x="3081" dy="19.7">+</tspan><tspan x="3081" dy="19.7">+</tspan><tspan x="3081" dy="19.7">+</tspan><tspan x="3081" dy="19.7">+</tspan><tspan x="3081" dy="19.7">+</tspan><tspan x="3081" dy="19.7">+</tspan><tspan x="3081" dy="19.7">+</tspan><tspan x="3081" dy="19.7">+</tspan><tspan x="3081" dy="54">+</tspan><tspan x="3081" dy="19.7">+</tspan><tspan x="3081" dy="19.7">-</tspan><tspan x="3081" dy="19.7">-</tspan><tspan x="3081" dy="19.7">-</tspan><tspan x="3081" dy="19.7">-</tspan><tspan x="3081" dy="19.7">-</tspan><tspan x="3081" dy="19.7">-</tspan><tspan x="3081" dy="19.7">-</tspan><tspan x="3081" dy="19.7">-</tspan><tspan x="3081" dy="34">-</tspan><tspan x="3081" dy="19.7">-</tspan><tspan x="3081" dy="39.4">-</tspan><tspan x="3081" dy="19.7">-</tspan><tspan x="3081" dy="19.7">-</tspan><tspan x="3081" dy="19.7">-</tspan></text>
<text y="5990"><tspan x="3097">PerProcessorScheduler()</tspan><tspan x="3097" dy="19.7">~PerProcessorScheduler()</tspan><tspan x="3097" dy="19.7">initialise()</tspan><tspan x="3097" dy="19.7">checkEventState()</tspan><tspan x="3097" dy="19.7">eventHandlerReturned()</tspan><tspan x="3097" dy="19.7">addThread()</tspan><tspan x="3097" dy="19.7">addThread()</tspan><tspan x="3097" dy="19.7">commitCurrentThreadExit()</tspan><tspan x="3097" dy="19.7">abandonCurrentThreadStack()</tspan><tspan x="3097" dy="19.7">requestCurrentThreadExit</tspan><tspan x="3097" dy="14.3">ToIdle()</tspan><tspan x="3097" dy="19.7">and 18 more...</tspan><tspan x="3097" dy="19.7">stackDiscardCount()</tspan><tspan x="3097" dy="19.7">stackDiscardCount()</tspan><tspan x="3097" dy="19.7">addThread()</tspan><tspan x="3097" dy="19.7">killCurrentThread()</tspan><tspan x="3097" dy="19.7">schedule()</tspan><tspan x="3097" dy="19.7">scheduleWithInterruptState()</tspan><tspan x="3097" dy="19.7">blockCurrent()</tspan><tspan x="3097" dy="19.7">publishReadyFromWait()</tspan><tspan x="3097" dy="19.7">finishCurrentThreadExit()</tspan><tspan x="3097" dy="19.7">serviceDeferredSubsystem</tspan><tspan x="3097" dy="14.3">Exception()</tspan><tspan x="3097" dy="19.7">checkEventState()</tspan><tspan x="3097" dy="19.7">checkEventState()</tspan><tspan x="3097" dy="19.7">and 14 more...</tspan><tspan x="3097" dy="19.7">deleteThreadThenRestoreState()</tspan><tspan x="3097" dy="19.7">deleteThread()</tspan><tspan x="3097" dy="19.7">timeAccountingWorkerEntry()</tspan><tspan x="3097" dy="19.7">processorAddThread()</tspan></text></g>

<g id="n_timerhandler" class="n gd"><rect x="3254" y="5431" width="203" height="86"/><line x1="3254" y1="5451" x2="3457" y2="5451"/><line x1="3254" y1="5471" x2="3457" y2="5471"/>
<text class="h" x="3355.5" y="5445">SchedulerTimerHandler</text>
<text y="5486"><tspan x="3262">+</tspan><tspan x="3262" dy="20">#</tspan></text>
<text y="5486"><tspan x="3278">timer()</tspan><tspan x="3278" dy="20">~SchedulerTimerHandler()</tspan></text></g>

<g id="n_schedalgo" class="n gd"><rect x="3482" y="5401" width="184" height="146"/><line x1="3482" y1="5421" x2="3666" y2="5421"/><line x1="3482" y1="5441" x2="3666" y2="5441"/>
<text class="h" x="3574" y="5415">SchedulingAlgorithm</text>
<text y="5456"><tspan x="3490">+</tspan><tspan x="3490" dy="20">+</tspan><tspan x="3490" dy="20">+</tspan><tspan x="3490" dy="20">+</tspan><tspan x="3490" dy="20">+</tspan></text>
<text y="5456"><tspan x="3506">~SchedulingAlgorithm()</tspan><tspan x="3506" dy="20">addThread()</tspan><tspan x="3506" dy="20">removeThread()</tspan><tspan x="3506" dy="20">getNext()</tspan><tspan x="3506" dy="20">threadStatusChanged()</tspan></text></g>

<g id="n_list_void" class="n org"><rect x="3692" y="5332" width="122" height="285"/><line x1="3692" y1="5352" x2="3814" y2="5352"/><line x1="3692" y1="5392" x2="3814" y2="5392"/>
<text class="h" x="3753" y="5346">List&lt; void * &gt;</text>
<text y="5367"><tspan x="3700">-</tspan><tspan x="3700" dy="20">-</tspan><tspan x="3700" dy="20">+</tspan><tspan x="3700" dy="20">+</tspan><tspan x="3700" dy="20">+</tspan><tspan x="3700" dy="20">+</tspan><tspan x="3700" dy="20">+</tspan><tspan x="3700" dy="20">+</tspan><tspan x="3700" dy="20">+</tspan><tspan x="3700" dy="20">+</tspan><tspan x="3700" dy="20">+</tspan><tspan x="3700" dy="20">+</tspan></text>
<text y="5367"><tspan x="3716">m_Count</tspan><tspan x="3716" dy="20">m_Magic</tspan><tspan x="3716" dy="20">List()</tspan><tspan x="3716" dy="20">List()</tspan><tspan x="3716" dy="20">~List()</tspan><tspan x="3716" dy="20">operator=()</tspan><tspan x="3716" dy="20">size()</tspan><tspan x="3716" dy="20">count()</tspan><tspan x="3716" dy="20">pushBack()</tspan><tspan x="3716" dy="20">pushBack()</tspan><tspan x="3716" dy="20">tryPushBack()</tspan><tspan x="3716" dy="20">tryPushBack()</tspan><tspan x="3716" dy="20">and 16 more...</tspan></text></g>

<g id="n_dtaws" class="n gd"><rect x="3839" y="5329" width="236" height="296"/><line x1="3839" y1="5367" x2="4075" y2="5367"/><line x1="3839" y1="5427" x2="4075" y2="5427"/>
<text class="h" x="3957" y="5343">DeferredTimeAccountingWorker</text><text class="h" x="3957" y="5359">State</text>
<text y="5382"><tspan x="3847">-</tspan><tspan x="3847" dy="20">-</tspan><tspan x="3847" dy="20">-</tspan><tspan x="3847" dy="20">+</tspan><tspan x="3847" dy="36">+</tspan><tspan x="3847" dy="20">+</tspan><tspan x="3847" dy="20">+</tspan><tspan x="3847" dy="20">+</tspan><tspan x="3847" dy="20">+</tspan><tspan x="3847" dy="20">-</tspan><tspan x="3847" dy="36">-</tspan></text>
<text y="5382"><tspan x="3863">m_Published</tspan><tspan x="3863" dy="20">m_Completed</tspan><tspan x="3863" dy="20">m_Active</tspan><tspan x="3863" dy="20">DeferredTimeAccountingWorker</tspan><tspan x="3863" dy="16">State()</tspan><tspan x="3863" dy="20">publish()</tspan><tspan x="3863" dy="20">beginBatch()</tspan><tspan x="3863" dy="20">finishBatch()</tspan><tspan x="3863" dy="20">ready()</tspan><tspan x="3863" dy="20">caughtUp()</tspan><tspan x="3863" dy="20">DeferredTimeAccountingWorker</tspan><tspan x="3863" dy="16">State()</tspan><tspan x="3863" dy="20">operator=()</tspan></text></g>
</svg>
